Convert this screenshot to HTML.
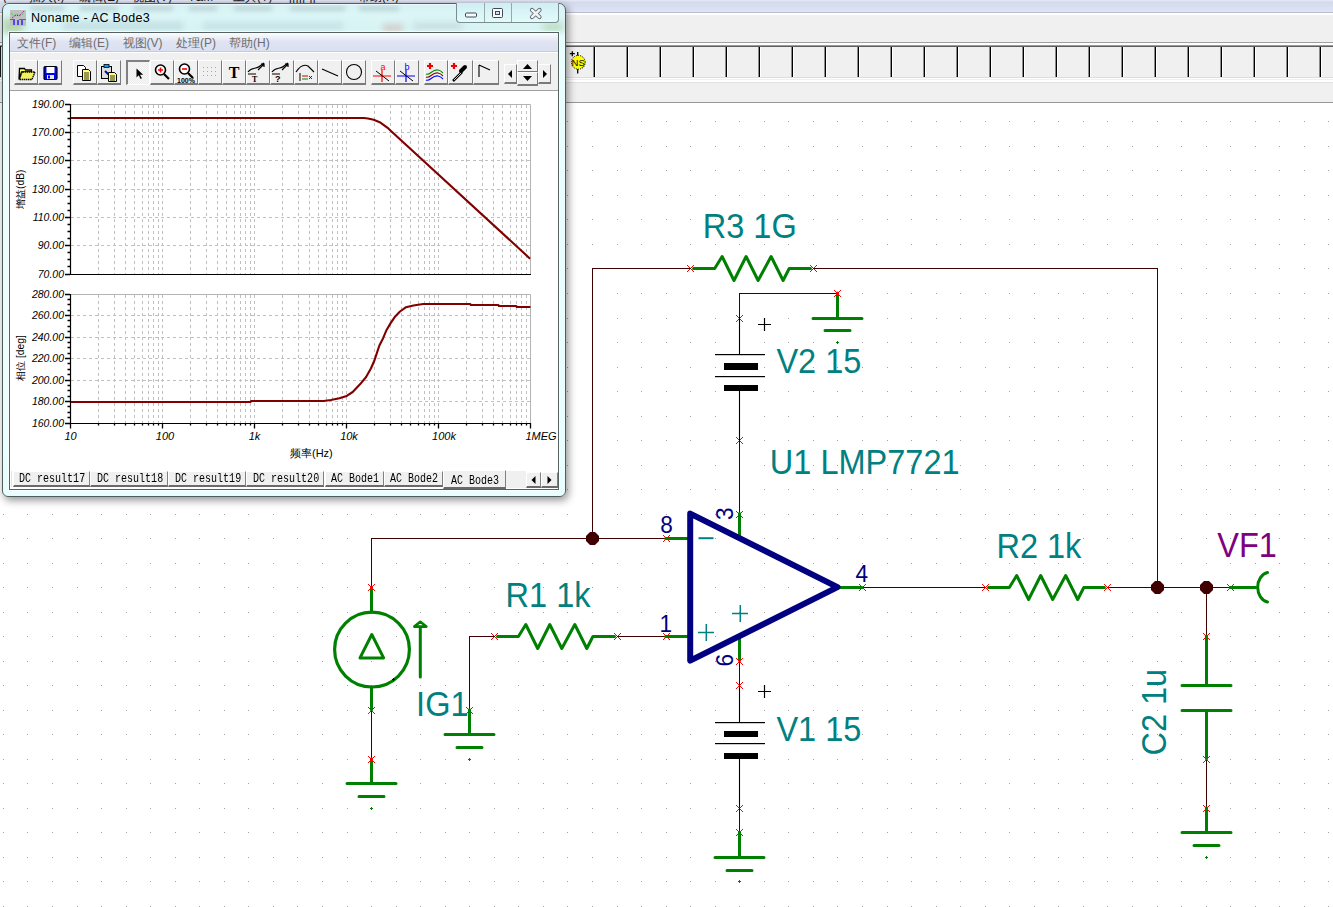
<!DOCTYPE html>
<html><head><meta charset="utf-8"><title>TINA</title><style>
*{margin:0;padding:0;box-sizing:border-box}
html,body{width:1333px;height:907px;overflow:hidden;background:#fff;font-family:"Liberation Sans",sans-serif}
.abs{position:absolute}
</style></head>
<body>
<div class="abs" style="left:0;top:0;width:1333px;height:12px;background:linear-gradient(#e8ebf6 0px,#d4daee 2px,#d8ddf0 6px,#dee3f5 12px)"></div>
<div class="abs" style="left:0;top:12px;width:1333px;height:1px;background:#b8bfd3"></div>
<div class="abs" style="left:0;top:13px;width:1333px;height:29px;background:#f0f0f0;border-top:2px solid #fff"></div>
<div class="abs" style="left:0;top:42px;width:1333px;height:1px;background:#a0a0a0"></div>
<div class="abs" style="left:0;top:43px;width:1333px;height:2px;background:#fff"></div>
<div class="abs" style="left:0;top:45px;width:1333px;height:2px;background:linear-gradient(#9a9a9a 0 1px,#5e5e5e 1px 2px)"></div>
<div class="abs" style="left:0;top:47px;width:1333px;height:30px;background:#f0f0f0"></div>
<div class="abs" style="left:0;top:77px;width:1333px;height:1px;background:#dcdcdc"></div>
<div class="abs" style="left:0;top:78px;width:1333px;height:24px;background:linear-gradient(#fff 0 1px,#f0f0f0 1px 2px,#fff 2px 4px,#e2e2e2 4px 5px,#f0f0f0 5px)"></div>
<div class="abs" style="left:0;top:102px;width:1333px;height:1px;background:#979797"></div>
<div class="abs" style="left:0;top:46px;width:1px;height:31px;background:#1a1a1a"></div>
<div class="abs" style="left:593px;top:47px;width:3px;height:30px;background:linear-gradient(90deg,#8c8c8c 0 1px,#000 1px 2px,#fff 2px 3px)"></div>
<div class="abs" style="left:626px;top:47px;width:3px;height:30px;background:linear-gradient(90deg,#8c8c8c 0 1px,#000 1px 2px,#fff 2px 3px)"></div>
<div class="abs" style="left:659px;top:47px;width:3px;height:30px;background:linear-gradient(90deg,#8c8c8c 0 1px,#000 1px 2px,#fff 2px 3px)"></div>
<div class="abs" style="left:692px;top:47px;width:3px;height:30px;background:linear-gradient(90deg,#8c8c8c 0 1px,#000 1px 2px,#fff 2px 3px)"></div>
<div class="abs" style="left:725px;top:47px;width:3px;height:30px;background:linear-gradient(90deg,#8c8c8c 0 1px,#000 1px 2px,#fff 2px 3px)"></div>
<div class="abs" style="left:758px;top:47px;width:3px;height:30px;background:linear-gradient(90deg,#8c8c8c 0 1px,#000 1px 2px,#fff 2px 3px)"></div>
<div class="abs" style="left:791px;top:47px;width:3px;height:30px;background:linear-gradient(90deg,#8c8c8c 0 1px,#000 1px 2px,#fff 2px 3px)"></div>
<div class="abs" style="left:824px;top:47px;width:3px;height:30px;background:linear-gradient(90deg,#8c8c8c 0 1px,#000 1px 2px,#fff 2px 3px)"></div>
<div class="abs" style="left:857px;top:47px;width:3px;height:30px;background:linear-gradient(90deg,#8c8c8c 0 1px,#000 1px 2px,#fff 2px 3px)"></div>
<div class="abs" style="left:890px;top:47px;width:3px;height:30px;background:linear-gradient(90deg,#8c8c8c 0 1px,#000 1px 2px,#fff 2px 3px)"></div>
<div class="abs" style="left:923px;top:47px;width:3px;height:30px;background:linear-gradient(90deg,#8c8c8c 0 1px,#000 1px 2px,#fff 2px 3px)"></div>
<div class="abs" style="left:956px;top:47px;width:3px;height:30px;background:linear-gradient(90deg,#8c8c8c 0 1px,#000 1px 2px,#fff 2px 3px)"></div>
<div class="abs" style="left:989px;top:47px;width:3px;height:30px;background:linear-gradient(90deg,#8c8c8c 0 1px,#000 1px 2px,#fff 2px 3px)"></div>
<div class="abs" style="left:1022px;top:47px;width:3px;height:30px;background:linear-gradient(90deg,#8c8c8c 0 1px,#000 1px 2px,#fff 2px 3px)"></div>
<div class="abs" style="left:1055px;top:47px;width:3px;height:30px;background:linear-gradient(90deg,#8c8c8c 0 1px,#000 1px 2px,#fff 2px 3px)"></div>
<div class="abs" style="left:1088px;top:47px;width:3px;height:30px;background:linear-gradient(90deg,#8c8c8c 0 1px,#000 1px 2px,#fff 2px 3px)"></div>
<div class="abs" style="left:1121px;top:47px;width:3px;height:30px;background:linear-gradient(90deg,#8c8c8c 0 1px,#000 1px 2px,#fff 2px 3px)"></div>
<div class="abs" style="left:1154px;top:47px;width:3px;height:30px;background:linear-gradient(90deg,#8c8c8c 0 1px,#000 1px 2px,#fff 2px 3px)"></div>
<div class="abs" style="left:1187px;top:47px;width:3px;height:30px;background:linear-gradient(90deg,#8c8c8c 0 1px,#000 1px 2px,#fff 2px 3px)"></div>
<div class="abs" style="left:1220px;top:47px;width:3px;height:30px;background:linear-gradient(90deg,#8c8c8c 0 1px,#000 1px 2px,#fff 2px 3px)"></div>
<div class="abs" style="left:1253px;top:47px;width:3px;height:30px;background:linear-gradient(90deg,#8c8c8c 0 1px,#000 1px 2px,#fff 2px 3px)"></div>
<div class="abs" style="left:1286px;top:47px;width:3px;height:30px;background:linear-gradient(90deg,#8c8c8c 0 1px,#000 1px 2px,#fff 2px 3px)"></div>
<div class="abs" style="left:1319px;top:47px;width:3px;height:30px;background:linear-gradient(90deg,#8c8c8c 0 1px,#000 1px 2px,#fff 2px 3px)"></div>
<svg class="abs" style="left:566px;top:50px" width="24" height="26" viewBox="0 0 24 26">
<line x1="11.7" y1="2" x2="11.7" y2="23.5" stroke="#000" stroke-width="1.3"/>
<path d="M3.8 3.7h5M6.3 1.2v5" stroke="#000" stroke-width="1.3"/>
<circle cx="12.3" cy="12.3" r="6.9" fill="#ffff00" stroke="#000" stroke-width="1" stroke-dasharray="1 1"/>
<path d="M16 18l2-2" stroke="#444" stroke-width="1.4" stroke-dasharray="1 1"/>
<text x="12.2" y="15.6" font-size="9.5" font-family="Liberation Sans" text-anchor="middle" fill="#000" transform="scale(1,1)">NS</text>
</svg>
<div class="abs" style="left:0;top:0;width:1333px;height:3px;overflow:hidden"><div class="abs" style="left:3px;top:-9px;font-size:12px;line-height:12px;color:#1a1a1a;white-space:nowrap">(</div><div class="abs" style="left:29px;top:-9px;font-size:12px;line-height:12px;color:#1a1a1a;white-space:nowrap">插入(I)</div><div class="abs" style="left:79px;top:-9px;font-size:12px;line-height:12px;color:#1a1a1a;white-space:nowrap">编辑(E)</div><div class="abs" style="left:132px;top:-9px;font-size:12px;line-height:12px;color:#1a1a1a;white-space:nowrap">视图(V)</div><div class="abs" style="left:188px;top:-9px;font-size:12px;line-height:12px;color:#1a1a1a;white-space:nowrap">T&amp;M</div><div class="abs" style="left:233px;top:-9px;font-size:12px;line-height:12px;color:#1a1a1a;white-space:nowrap">工具(T)</div><div class="abs" style="left:289px;top:-9px;font-size:12px;line-height:12px;color:#1a1a1a;white-space:nowrap">[[[[[ ]]</div><div class="abs" style="left:358px;top:-9px;font-size:12px;line-height:12px;color:#1a1a1a;white-space:nowrap">帮助(H)</div></div>
<svg class="abs" style="left:0;top:0" width="1333" height="907" viewBox="0 0 1333 907">
<path d="M3 121h1v1h-1zM3 146h1v1h-1zM3 170h1v1h-1zM3 195h1v1h-1zM3 219h1v1h-1zM3 244h1v1h-1zM3 268h1v1h-1zM3 293h1v1h-1zM3 318h1v1h-1zM3 342h1v1h-1zM3 367h1v1h-1zM3 391h1v1h-1zM3 416h1v1h-1zM3 440h1v1h-1zM3 465h1v1h-1zM3 489h1v1h-1zM3 514h1v1h-1zM3 538h1v1h-1zM3 563h1v1h-1zM3 587h1v1h-1zM3 612h1v1h-1zM3 636h1v1h-1zM3 661h1v1h-1zM3 685h1v1h-1zM3 710h1v1h-1zM3 734h1v1h-1zM3 759h1v1h-1zM3 783h1v1h-1zM3 808h1v1h-1zM3 832h1v1h-1zM3 857h1v1h-1zM3 881h1v1h-1zM3 906h1v1h-1zM27 121h1v1h-1zM27 146h1v1h-1zM27 170h1v1h-1zM27 195h1v1h-1zM27 219h1v1h-1zM27 244h1v1h-1zM27 268h1v1h-1zM27 293h1v1h-1zM27 318h1v1h-1zM27 342h1v1h-1zM27 367h1v1h-1zM27 391h1v1h-1zM27 416h1v1h-1zM27 440h1v1h-1zM27 465h1v1h-1zM27 489h1v1h-1zM27 514h1v1h-1zM27 538h1v1h-1zM27 563h1v1h-1zM27 587h1v1h-1zM27 612h1v1h-1zM27 636h1v1h-1zM27 661h1v1h-1zM27 685h1v1h-1zM27 710h1v1h-1zM27 734h1v1h-1zM27 759h1v1h-1zM27 783h1v1h-1zM27 808h1v1h-1zM27 832h1v1h-1zM27 857h1v1h-1zM27 881h1v1h-1zM27 906h1v1h-1zM52 121h1v1h-1zM52 146h1v1h-1zM52 170h1v1h-1zM52 195h1v1h-1zM52 219h1v1h-1zM52 244h1v1h-1zM52 268h1v1h-1zM52 293h1v1h-1zM52 318h1v1h-1zM52 342h1v1h-1zM52 367h1v1h-1zM52 391h1v1h-1zM52 416h1v1h-1zM52 440h1v1h-1zM52 465h1v1h-1zM52 489h1v1h-1zM52 514h1v1h-1zM52 538h1v1h-1zM52 563h1v1h-1zM52 587h1v1h-1zM52 612h1v1h-1zM52 636h1v1h-1zM52 661h1v1h-1zM52 685h1v1h-1zM52 710h1v1h-1zM52 734h1v1h-1zM52 759h1v1h-1zM52 783h1v1h-1zM52 808h1v1h-1zM52 832h1v1h-1zM52 857h1v1h-1zM52 881h1v1h-1zM52 906h1v1h-1zM77 121h1v1h-1zM77 146h1v1h-1zM77 170h1v1h-1zM77 195h1v1h-1zM77 219h1v1h-1zM77 244h1v1h-1zM77 268h1v1h-1zM77 293h1v1h-1zM77 318h1v1h-1zM77 342h1v1h-1zM77 367h1v1h-1zM77 391h1v1h-1zM77 416h1v1h-1zM77 440h1v1h-1zM77 465h1v1h-1zM77 489h1v1h-1zM77 514h1v1h-1zM77 538h1v1h-1zM77 563h1v1h-1zM77 587h1v1h-1zM77 612h1v1h-1zM77 636h1v1h-1zM77 661h1v1h-1zM77 685h1v1h-1zM77 710h1v1h-1zM77 734h1v1h-1zM77 759h1v1h-1zM77 783h1v1h-1zM77 808h1v1h-1zM77 832h1v1h-1zM77 857h1v1h-1zM77 881h1v1h-1zM77 906h1v1h-1zM101 121h1v1h-1zM101 146h1v1h-1zM101 170h1v1h-1zM101 195h1v1h-1zM101 219h1v1h-1zM101 244h1v1h-1zM101 268h1v1h-1zM101 293h1v1h-1zM101 318h1v1h-1zM101 342h1v1h-1zM101 367h1v1h-1zM101 391h1v1h-1zM101 416h1v1h-1zM101 440h1v1h-1zM101 465h1v1h-1zM101 489h1v1h-1zM101 514h1v1h-1zM101 538h1v1h-1zM101 563h1v1h-1zM101 587h1v1h-1zM101 612h1v1h-1zM101 636h1v1h-1zM101 661h1v1h-1zM101 685h1v1h-1zM101 710h1v1h-1zM101 734h1v1h-1zM101 759h1v1h-1zM101 783h1v1h-1zM101 808h1v1h-1zM101 832h1v1h-1zM101 857h1v1h-1zM101 881h1v1h-1zM101 906h1v1h-1zM126 121h1v1h-1zM126 146h1v1h-1zM126 170h1v1h-1zM126 195h1v1h-1zM126 219h1v1h-1zM126 244h1v1h-1zM126 268h1v1h-1zM126 293h1v1h-1zM126 318h1v1h-1zM126 342h1v1h-1zM126 367h1v1h-1zM126 391h1v1h-1zM126 416h1v1h-1zM126 440h1v1h-1zM126 465h1v1h-1zM126 489h1v1h-1zM126 514h1v1h-1zM126 538h1v1h-1zM126 563h1v1h-1zM126 587h1v1h-1zM126 612h1v1h-1zM126 636h1v1h-1zM126 661h1v1h-1zM126 685h1v1h-1zM126 710h1v1h-1zM126 734h1v1h-1zM126 759h1v1h-1zM126 783h1v1h-1zM126 808h1v1h-1zM126 832h1v1h-1zM126 857h1v1h-1zM126 881h1v1h-1zM126 906h1v1h-1zM150 121h1v1h-1zM150 146h1v1h-1zM150 170h1v1h-1zM150 195h1v1h-1zM150 219h1v1h-1zM150 244h1v1h-1zM150 268h1v1h-1zM150 293h1v1h-1zM150 318h1v1h-1zM150 342h1v1h-1zM150 367h1v1h-1zM150 391h1v1h-1zM150 416h1v1h-1zM150 440h1v1h-1zM150 465h1v1h-1zM150 489h1v1h-1zM150 514h1v1h-1zM150 538h1v1h-1zM150 563h1v1h-1zM150 587h1v1h-1zM150 612h1v1h-1zM150 636h1v1h-1zM150 661h1v1h-1zM150 685h1v1h-1zM150 710h1v1h-1zM150 734h1v1h-1zM150 759h1v1h-1zM150 783h1v1h-1zM150 808h1v1h-1zM150 832h1v1h-1zM150 857h1v1h-1zM150 881h1v1h-1zM150 906h1v1h-1zM175 121h1v1h-1zM175 146h1v1h-1zM175 170h1v1h-1zM175 195h1v1h-1zM175 219h1v1h-1zM175 244h1v1h-1zM175 268h1v1h-1zM175 293h1v1h-1zM175 318h1v1h-1zM175 342h1v1h-1zM175 367h1v1h-1zM175 391h1v1h-1zM175 416h1v1h-1zM175 440h1v1h-1zM175 465h1v1h-1zM175 489h1v1h-1zM175 514h1v1h-1zM175 538h1v1h-1zM175 563h1v1h-1zM175 587h1v1h-1zM175 612h1v1h-1zM175 636h1v1h-1zM175 661h1v1h-1zM175 685h1v1h-1zM175 710h1v1h-1zM175 734h1v1h-1zM175 759h1v1h-1zM175 783h1v1h-1zM175 808h1v1h-1zM175 832h1v1h-1zM175 857h1v1h-1zM175 881h1v1h-1zM175 906h1v1h-1zM199 121h1v1h-1zM199 146h1v1h-1zM199 170h1v1h-1zM199 195h1v1h-1zM199 219h1v1h-1zM199 244h1v1h-1zM199 268h1v1h-1zM199 293h1v1h-1zM199 318h1v1h-1zM199 342h1v1h-1zM199 367h1v1h-1zM199 391h1v1h-1zM199 416h1v1h-1zM199 440h1v1h-1zM199 465h1v1h-1zM199 489h1v1h-1zM199 514h1v1h-1zM199 538h1v1h-1zM199 563h1v1h-1zM199 587h1v1h-1zM199 612h1v1h-1zM199 636h1v1h-1zM199 661h1v1h-1zM199 685h1v1h-1zM199 710h1v1h-1zM199 734h1v1h-1zM199 759h1v1h-1zM199 783h1v1h-1zM199 808h1v1h-1zM199 832h1v1h-1zM199 857h1v1h-1zM199 881h1v1h-1zM199 906h1v1h-1zM224 121h1v1h-1zM224 146h1v1h-1zM224 170h1v1h-1zM224 195h1v1h-1zM224 219h1v1h-1zM224 244h1v1h-1zM224 268h1v1h-1zM224 293h1v1h-1zM224 318h1v1h-1zM224 342h1v1h-1zM224 367h1v1h-1zM224 391h1v1h-1zM224 416h1v1h-1zM224 440h1v1h-1zM224 465h1v1h-1zM224 489h1v1h-1zM224 514h1v1h-1zM224 538h1v1h-1zM224 563h1v1h-1zM224 587h1v1h-1zM224 612h1v1h-1zM224 636h1v1h-1zM224 661h1v1h-1zM224 685h1v1h-1zM224 710h1v1h-1zM224 734h1v1h-1zM224 759h1v1h-1zM224 783h1v1h-1zM224 808h1v1h-1zM224 832h1v1h-1zM224 857h1v1h-1zM224 881h1v1h-1zM224 906h1v1h-1zM248 121h1v1h-1zM248 146h1v1h-1zM248 170h1v1h-1zM248 195h1v1h-1zM248 219h1v1h-1zM248 244h1v1h-1zM248 268h1v1h-1zM248 293h1v1h-1zM248 318h1v1h-1zM248 342h1v1h-1zM248 367h1v1h-1zM248 391h1v1h-1zM248 416h1v1h-1zM248 440h1v1h-1zM248 465h1v1h-1zM248 489h1v1h-1zM248 514h1v1h-1zM248 538h1v1h-1zM248 563h1v1h-1zM248 587h1v1h-1zM248 612h1v1h-1zM248 636h1v1h-1zM248 661h1v1h-1zM248 685h1v1h-1zM248 710h1v1h-1zM248 734h1v1h-1zM248 759h1v1h-1zM248 783h1v1h-1zM248 808h1v1h-1zM248 832h1v1h-1zM248 857h1v1h-1zM248 881h1v1h-1zM248 906h1v1h-1zM273 121h1v1h-1zM273 146h1v1h-1zM273 170h1v1h-1zM273 195h1v1h-1zM273 219h1v1h-1zM273 244h1v1h-1zM273 268h1v1h-1zM273 293h1v1h-1zM273 318h1v1h-1zM273 342h1v1h-1zM273 367h1v1h-1zM273 391h1v1h-1zM273 416h1v1h-1zM273 440h1v1h-1zM273 465h1v1h-1zM273 489h1v1h-1zM273 514h1v1h-1zM273 538h1v1h-1zM273 563h1v1h-1zM273 587h1v1h-1zM273 612h1v1h-1zM273 636h1v1h-1zM273 661h1v1h-1zM273 685h1v1h-1zM273 710h1v1h-1zM273 734h1v1h-1zM273 759h1v1h-1zM273 783h1v1h-1zM273 808h1v1h-1zM273 832h1v1h-1zM273 857h1v1h-1zM273 881h1v1h-1zM273 906h1v1h-1zM297 121h1v1h-1zM297 146h1v1h-1zM297 170h1v1h-1zM297 195h1v1h-1zM297 219h1v1h-1zM297 244h1v1h-1zM297 268h1v1h-1zM297 293h1v1h-1zM297 318h1v1h-1zM297 342h1v1h-1zM297 367h1v1h-1zM297 391h1v1h-1zM297 416h1v1h-1zM297 440h1v1h-1zM297 465h1v1h-1zM297 489h1v1h-1zM297 514h1v1h-1zM297 538h1v1h-1zM297 563h1v1h-1zM297 587h1v1h-1zM297 612h1v1h-1zM297 636h1v1h-1zM297 661h1v1h-1zM297 685h1v1h-1zM297 710h1v1h-1zM297 734h1v1h-1zM297 759h1v1h-1zM297 783h1v1h-1zM297 808h1v1h-1zM297 832h1v1h-1zM297 857h1v1h-1zM297 881h1v1h-1zM297 906h1v1h-1zM322 121h1v1h-1zM322 146h1v1h-1zM322 170h1v1h-1zM322 195h1v1h-1zM322 219h1v1h-1zM322 244h1v1h-1zM322 268h1v1h-1zM322 293h1v1h-1zM322 318h1v1h-1zM322 342h1v1h-1zM322 367h1v1h-1zM322 391h1v1h-1zM322 416h1v1h-1zM322 440h1v1h-1zM322 465h1v1h-1zM322 489h1v1h-1zM322 514h1v1h-1zM322 538h1v1h-1zM322 563h1v1h-1zM322 587h1v1h-1zM322 612h1v1h-1zM322 636h1v1h-1zM322 661h1v1h-1zM322 685h1v1h-1zM322 710h1v1h-1zM322 734h1v1h-1zM322 759h1v1h-1zM322 783h1v1h-1zM322 808h1v1h-1zM322 832h1v1h-1zM322 857h1v1h-1zM322 881h1v1h-1zM322 906h1v1h-1zM347 121h1v1h-1zM347 146h1v1h-1zM347 170h1v1h-1zM347 195h1v1h-1zM347 219h1v1h-1zM347 244h1v1h-1zM347 268h1v1h-1zM347 293h1v1h-1zM347 318h1v1h-1zM347 342h1v1h-1zM347 367h1v1h-1zM347 391h1v1h-1zM347 416h1v1h-1zM347 440h1v1h-1zM347 465h1v1h-1zM347 489h1v1h-1zM347 514h1v1h-1zM347 538h1v1h-1zM347 563h1v1h-1zM347 587h1v1h-1zM347 612h1v1h-1zM347 636h1v1h-1zM347 661h1v1h-1zM347 685h1v1h-1zM347 710h1v1h-1zM347 734h1v1h-1zM347 759h1v1h-1zM347 783h1v1h-1zM347 808h1v1h-1zM347 832h1v1h-1zM347 857h1v1h-1zM347 881h1v1h-1zM347 906h1v1h-1zM371 121h1v1h-1zM371 146h1v1h-1zM371 170h1v1h-1zM371 195h1v1h-1zM371 219h1v1h-1zM371 244h1v1h-1zM371 268h1v1h-1zM371 293h1v1h-1zM371 318h1v1h-1zM371 342h1v1h-1zM371 367h1v1h-1zM371 391h1v1h-1zM371 416h1v1h-1zM371 440h1v1h-1zM371 465h1v1h-1zM371 489h1v1h-1zM371 514h1v1h-1zM371 538h1v1h-1zM371 563h1v1h-1zM371 587h1v1h-1zM371 612h1v1h-1zM371 636h1v1h-1zM371 661h1v1h-1zM371 685h1v1h-1zM371 710h1v1h-1zM371 734h1v1h-1zM371 759h1v1h-1zM371 783h1v1h-1zM371 808h1v1h-1zM371 832h1v1h-1zM371 857h1v1h-1zM371 881h1v1h-1zM371 906h1v1h-1zM396 121h1v1h-1zM396 146h1v1h-1zM396 170h1v1h-1zM396 195h1v1h-1zM396 219h1v1h-1zM396 244h1v1h-1zM396 268h1v1h-1zM396 293h1v1h-1zM396 318h1v1h-1zM396 342h1v1h-1zM396 367h1v1h-1zM396 391h1v1h-1zM396 416h1v1h-1zM396 440h1v1h-1zM396 465h1v1h-1zM396 489h1v1h-1zM396 514h1v1h-1zM396 538h1v1h-1zM396 563h1v1h-1zM396 587h1v1h-1zM396 612h1v1h-1zM396 636h1v1h-1zM396 661h1v1h-1zM396 685h1v1h-1zM396 710h1v1h-1zM396 734h1v1h-1zM396 759h1v1h-1zM396 783h1v1h-1zM396 808h1v1h-1zM396 832h1v1h-1zM396 857h1v1h-1zM396 881h1v1h-1zM396 906h1v1h-1zM420 121h1v1h-1zM420 146h1v1h-1zM420 170h1v1h-1zM420 195h1v1h-1zM420 219h1v1h-1zM420 244h1v1h-1zM420 268h1v1h-1zM420 293h1v1h-1zM420 318h1v1h-1zM420 342h1v1h-1zM420 367h1v1h-1zM420 391h1v1h-1zM420 416h1v1h-1zM420 440h1v1h-1zM420 465h1v1h-1zM420 489h1v1h-1zM420 514h1v1h-1zM420 538h1v1h-1zM420 563h1v1h-1zM420 587h1v1h-1zM420 612h1v1h-1zM420 636h1v1h-1zM420 661h1v1h-1zM420 685h1v1h-1zM420 710h1v1h-1zM420 734h1v1h-1zM420 759h1v1h-1zM420 783h1v1h-1zM420 808h1v1h-1zM420 832h1v1h-1zM420 857h1v1h-1zM420 881h1v1h-1zM420 906h1v1h-1zM445 121h1v1h-1zM445 146h1v1h-1zM445 170h1v1h-1zM445 195h1v1h-1zM445 219h1v1h-1zM445 244h1v1h-1zM445 268h1v1h-1zM445 293h1v1h-1zM445 318h1v1h-1zM445 342h1v1h-1zM445 367h1v1h-1zM445 391h1v1h-1zM445 416h1v1h-1zM445 440h1v1h-1zM445 465h1v1h-1zM445 489h1v1h-1zM445 514h1v1h-1zM445 538h1v1h-1zM445 563h1v1h-1zM445 587h1v1h-1zM445 612h1v1h-1zM445 636h1v1h-1zM445 661h1v1h-1zM445 685h1v1h-1zM445 710h1v1h-1zM445 734h1v1h-1zM445 759h1v1h-1zM445 783h1v1h-1zM445 808h1v1h-1zM445 832h1v1h-1zM445 857h1v1h-1zM445 881h1v1h-1zM445 906h1v1h-1zM469 121h1v1h-1zM469 146h1v1h-1zM469 170h1v1h-1zM469 195h1v1h-1zM469 219h1v1h-1zM469 244h1v1h-1zM469 268h1v1h-1zM469 293h1v1h-1zM469 318h1v1h-1zM469 342h1v1h-1zM469 367h1v1h-1zM469 391h1v1h-1zM469 416h1v1h-1zM469 440h1v1h-1zM469 465h1v1h-1zM469 489h1v1h-1zM469 514h1v1h-1zM469 538h1v1h-1zM469 563h1v1h-1zM469 587h1v1h-1zM469 612h1v1h-1zM469 636h1v1h-1zM469 661h1v1h-1zM469 685h1v1h-1zM469 710h1v1h-1zM469 734h1v1h-1zM469 759h1v1h-1zM469 783h1v1h-1zM469 808h1v1h-1zM469 832h1v1h-1zM469 857h1v1h-1zM469 881h1v1h-1zM469 906h1v1h-1zM494 121h1v1h-1zM494 146h1v1h-1zM494 170h1v1h-1zM494 195h1v1h-1zM494 219h1v1h-1zM494 244h1v1h-1zM494 268h1v1h-1zM494 293h1v1h-1zM494 318h1v1h-1zM494 342h1v1h-1zM494 367h1v1h-1zM494 391h1v1h-1zM494 416h1v1h-1zM494 440h1v1h-1zM494 465h1v1h-1zM494 489h1v1h-1zM494 514h1v1h-1zM494 538h1v1h-1zM494 563h1v1h-1zM494 587h1v1h-1zM494 612h1v1h-1zM494 636h1v1h-1zM494 661h1v1h-1zM494 685h1v1h-1zM494 710h1v1h-1zM494 734h1v1h-1zM494 759h1v1h-1zM494 783h1v1h-1zM494 808h1v1h-1zM494 832h1v1h-1zM494 857h1v1h-1zM494 881h1v1h-1zM494 906h1v1h-1zM518 121h1v1h-1zM518 146h1v1h-1zM518 170h1v1h-1zM518 195h1v1h-1zM518 219h1v1h-1zM518 244h1v1h-1zM518 268h1v1h-1zM518 293h1v1h-1zM518 318h1v1h-1zM518 342h1v1h-1zM518 367h1v1h-1zM518 391h1v1h-1zM518 416h1v1h-1zM518 440h1v1h-1zM518 465h1v1h-1zM518 489h1v1h-1zM518 514h1v1h-1zM518 538h1v1h-1zM518 563h1v1h-1zM518 587h1v1h-1zM518 612h1v1h-1zM518 636h1v1h-1zM518 661h1v1h-1zM518 685h1v1h-1zM518 710h1v1h-1zM518 734h1v1h-1zM518 759h1v1h-1zM518 783h1v1h-1zM518 808h1v1h-1zM518 832h1v1h-1zM518 857h1v1h-1zM518 881h1v1h-1zM518 906h1v1h-1zM543 121h1v1h-1zM543 146h1v1h-1zM543 170h1v1h-1zM543 195h1v1h-1zM543 219h1v1h-1zM543 244h1v1h-1zM543 268h1v1h-1zM543 293h1v1h-1zM543 318h1v1h-1zM543 342h1v1h-1zM543 367h1v1h-1zM543 391h1v1h-1zM543 416h1v1h-1zM543 440h1v1h-1zM543 465h1v1h-1zM543 489h1v1h-1zM543 514h1v1h-1zM543 538h1v1h-1zM543 563h1v1h-1zM543 587h1v1h-1zM543 612h1v1h-1zM543 636h1v1h-1zM543 661h1v1h-1zM543 685h1v1h-1zM543 710h1v1h-1zM543 734h1v1h-1zM543 759h1v1h-1zM543 783h1v1h-1zM543 808h1v1h-1zM543 832h1v1h-1zM543 857h1v1h-1zM543 881h1v1h-1zM543 906h1v1h-1zM567 121h1v1h-1zM567 146h1v1h-1zM567 170h1v1h-1zM567 195h1v1h-1zM567 219h1v1h-1zM567 244h1v1h-1zM567 268h1v1h-1zM567 293h1v1h-1zM567 318h1v1h-1zM567 342h1v1h-1zM567 367h1v1h-1zM567 391h1v1h-1zM567 416h1v1h-1zM567 440h1v1h-1zM567 465h1v1h-1zM567 489h1v1h-1zM567 514h1v1h-1zM567 538h1v1h-1zM567 563h1v1h-1zM567 587h1v1h-1zM567 612h1v1h-1zM567 636h1v1h-1zM567 661h1v1h-1zM567 685h1v1h-1zM567 710h1v1h-1zM567 734h1v1h-1zM567 759h1v1h-1zM567 783h1v1h-1zM567 808h1v1h-1zM567 832h1v1h-1zM567 857h1v1h-1zM567 881h1v1h-1zM567 906h1v1h-1zM592 121h1v1h-1zM592 146h1v1h-1zM592 170h1v1h-1zM592 195h1v1h-1zM592 219h1v1h-1zM592 244h1v1h-1zM592 268h1v1h-1zM592 293h1v1h-1zM592 318h1v1h-1zM592 342h1v1h-1zM592 367h1v1h-1zM592 391h1v1h-1zM592 416h1v1h-1zM592 440h1v1h-1zM592 465h1v1h-1zM592 489h1v1h-1zM592 514h1v1h-1zM592 538h1v1h-1zM592 563h1v1h-1zM592 587h1v1h-1zM592 612h1v1h-1zM592 636h1v1h-1zM592 661h1v1h-1zM592 685h1v1h-1zM592 710h1v1h-1zM592 734h1v1h-1zM592 759h1v1h-1zM592 783h1v1h-1zM592 808h1v1h-1zM592 832h1v1h-1zM592 857h1v1h-1zM592 881h1v1h-1zM592 906h1v1h-1zM617 121h1v1h-1zM617 146h1v1h-1zM617 170h1v1h-1zM617 195h1v1h-1zM617 219h1v1h-1zM617 244h1v1h-1zM617 268h1v1h-1zM617 293h1v1h-1zM617 318h1v1h-1zM617 342h1v1h-1zM617 367h1v1h-1zM617 391h1v1h-1zM617 416h1v1h-1zM617 440h1v1h-1zM617 465h1v1h-1zM617 489h1v1h-1zM617 514h1v1h-1zM617 538h1v1h-1zM617 563h1v1h-1zM617 587h1v1h-1zM617 612h1v1h-1zM617 636h1v1h-1zM617 661h1v1h-1zM617 685h1v1h-1zM617 710h1v1h-1zM617 734h1v1h-1zM617 759h1v1h-1zM617 783h1v1h-1zM617 808h1v1h-1zM617 832h1v1h-1zM617 857h1v1h-1zM617 881h1v1h-1zM617 906h1v1h-1zM641 121h1v1h-1zM641 146h1v1h-1zM641 170h1v1h-1zM641 195h1v1h-1zM641 219h1v1h-1zM641 244h1v1h-1zM641 268h1v1h-1zM641 293h1v1h-1zM641 318h1v1h-1zM641 342h1v1h-1zM641 367h1v1h-1zM641 391h1v1h-1zM641 416h1v1h-1zM641 440h1v1h-1zM641 465h1v1h-1zM641 489h1v1h-1zM641 514h1v1h-1zM641 538h1v1h-1zM641 563h1v1h-1zM641 587h1v1h-1zM641 612h1v1h-1zM641 636h1v1h-1zM641 661h1v1h-1zM641 685h1v1h-1zM641 710h1v1h-1zM641 734h1v1h-1zM641 759h1v1h-1zM641 783h1v1h-1zM641 808h1v1h-1zM641 832h1v1h-1zM641 857h1v1h-1zM641 881h1v1h-1zM641 906h1v1h-1zM666 121h1v1h-1zM666 146h1v1h-1zM666 170h1v1h-1zM666 195h1v1h-1zM666 219h1v1h-1zM666 244h1v1h-1zM666 268h1v1h-1zM666 293h1v1h-1zM666 318h1v1h-1zM666 342h1v1h-1zM666 367h1v1h-1zM666 391h1v1h-1zM666 416h1v1h-1zM666 440h1v1h-1zM666 465h1v1h-1zM666 489h1v1h-1zM666 514h1v1h-1zM666 538h1v1h-1zM666 563h1v1h-1zM666 587h1v1h-1zM666 612h1v1h-1zM666 636h1v1h-1zM666 661h1v1h-1zM666 685h1v1h-1zM666 710h1v1h-1zM666 734h1v1h-1zM666 759h1v1h-1zM666 783h1v1h-1zM666 808h1v1h-1zM666 832h1v1h-1zM666 857h1v1h-1zM666 881h1v1h-1zM666 906h1v1h-1zM690 121h1v1h-1zM690 146h1v1h-1zM690 170h1v1h-1zM690 195h1v1h-1zM690 219h1v1h-1zM690 244h1v1h-1zM690 268h1v1h-1zM690 293h1v1h-1zM690 318h1v1h-1zM690 342h1v1h-1zM690 367h1v1h-1zM690 391h1v1h-1zM690 416h1v1h-1zM690 440h1v1h-1zM690 465h1v1h-1zM690 489h1v1h-1zM690 514h1v1h-1zM690 538h1v1h-1zM690 563h1v1h-1zM690 587h1v1h-1zM690 612h1v1h-1zM690 636h1v1h-1zM690 661h1v1h-1zM690 685h1v1h-1zM690 710h1v1h-1zM690 734h1v1h-1zM690 759h1v1h-1zM690 783h1v1h-1zM690 808h1v1h-1zM690 832h1v1h-1zM690 857h1v1h-1zM690 881h1v1h-1zM690 906h1v1h-1zM715 121h1v1h-1zM715 146h1v1h-1zM715 170h1v1h-1zM715 195h1v1h-1zM715 219h1v1h-1zM715 244h1v1h-1zM715 268h1v1h-1zM715 293h1v1h-1zM715 318h1v1h-1zM715 342h1v1h-1zM715 367h1v1h-1zM715 391h1v1h-1zM715 416h1v1h-1zM715 440h1v1h-1zM715 465h1v1h-1zM715 489h1v1h-1zM715 514h1v1h-1zM715 538h1v1h-1zM715 563h1v1h-1zM715 587h1v1h-1zM715 612h1v1h-1zM715 636h1v1h-1zM715 661h1v1h-1zM715 685h1v1h-1zM715 710h1v1h-1zM715 734h1v1h-1zM715 759h1v1h-1zM715 783h1v1h-1zM715 808h1v1h-1zM715 832h1v1h-1zM715 857h1v1h-1zM715 881h1v1h-1zM715 906h1v1h-1zM739 121h1v1h-1zM739 146h1v1h-1zM739 170h1v1h-1zM739 195h1v1h-1zM739 219h1v1h-1zM739 244h1v1h-1zM739 268h1v1h-1zM739 293h1v1h-1zM739 318h1v1h-1zM739 342h1v1h-1zM739 367h1v1h-1zM739 391h1v1h-1zM739 416h1v1h-1zM739 440h1v1h-1zM739 465h1v1h-1zM739 489h1v1h-1zM739 514h1v1h-1zM739 538h1v1h-1zM739 563h1v1h-1zM739 587h1v1h-1zM739 612h1v1h-1zM739 636h1v1h-1zM739 661h1v1h-1zM739 685h1v1h-1zM739 710h1v1h-1zM739 734h1v1h-1zM739 759h1v1h-1zM739 783h1v1h-1zM739 808h1v1h-1zM739 832h1v1h-1zM739 857h1v1h-1zM739 881h1v1h-1zM739 906h1v1h-1zM764 121h1v1h-1zM764 146h1v1h-1zM764 170h1v1h-1zM764 195h1v1h-1zM764 219h1v1h-1zM764 244h1v1h-1zM764 268h1v1h-1zM764 293h1v1h-1zM764 318h1v1h-1zM764 342h1v1h-1zM764 367h1v1h-1zM764 391h1v1h-1zM764 416h1v1h-1zM764 440h1v1h-1zM764 465h1v1h-1zM764 489h1v1h-1zM764 514h1v1h-1zM764 538h1v1h-1zM764 563h1v1h-1zM764 587h1v1h-1zM764 612h1v1h-1zM764 636h1v1h-1zM764 661h1v1h-1zM764 685h1v1h-1zM764 710h1v1h-1zM764 734h1v1h-1zM764 759h1v1h-1zM764 783h1v1h-1zM764 808h1v1h-1zM764 832h1v1h-1zM764 857h1v1h-1zM764 881h1v1h-1zM764 906h1v1h-1zM788 121h1v1h-1zM788 146h1v1h-1zM788 170h1v1h-1zM788 195h1v1h-1zM788 219h1v1h-1zM788 244h1v1h-1zM788 268h1v1h-1zM788 293h1v1h-1zM788 318h1v1h-1zM788 342h1v1h-1zM788 367h1v1h-1zM788 391h1v1h-1zM788 416h1v1h-1zM788 440h1v1h-1zM788 465h1v1h-1zM788 489h1v1h-1zM788 514h1v1h-1zM788 538h1v1h-1zM788 563h1v1h-1zM788 587h1v1h-1zM788 612h1v1h-1zM788 636h1v1h-1zM788 661h1v1h-1zM788 685h1v1h-1zM788 710h1v1h-1zM788 734h1v1h-1zM788 759h1v1h-1zM788 783h1v1h-1zM788 808h1v1h-1zM788 832h1v1h-1zM788 857h1v1h-1zM788 881h1v1h-1zM788 906h1v1h-1zM813 121h1v1h-1zM813 146h1v1h-1zM813 170h1v1h-1zM813 195h1v1h-1zM813 219h1v1h-1zM813 244h1v1h-1zM813 268h1v1h-1zM813 293h1v1h-1zM813 318h1v1h-1zM813 342h1v1h-1zM813 367h1v1h-1zM813 391h1v1h-1zM813 416h1v1h-1zM813 440h1v1h-1zM813 465h1v1h-1zM813 489h1v1h-1zM813 514h1v1h-1zM813 538h1v1h-1zM813 563h1v1h-1zM813 587h1v1h-1zM813 612h1v1h-1zM813 636h1v1h-1zM813 661h1v1h-1zM813 685h1v1h-1zM813 710h1v1h-1zM813 734h1v1h-1zM813 759h1v1h-1zM813 783h1v1h-1zM813 808h1v1h-1zM813 832h1v1h-1zM813 857h1v1h-1zM813 881h1v1h-1zM813 906h1v1h-1zM837 121h1v1h-1zM837 146h1v1h-1zM837 170h1v1h-1zM837 195h1v1h-1zM837 219h1v1h-1zM837 244h1v1h-1zM837 268h1v1h-1zM837 293h1v1h-1zM837 318h1v1h-1zM837 342h1v1h-1zM837 367h1v1h-1zM837 391h1v1h-1zM837 416h1v1h-1zM837 440h1v1h-1zM837 465h1v1h-1zM837 489h1v1h-1zM837 514h1v1h-1zM837 538h1v1h-1zM837 563h1v1h-1zM837 587h1v1h-1zM837 612h1v1h-1zM837 636h1v1h-1zM837 661h1v1h-1zM837 685h1v1h-1zM837 710h1v1h-1zM837 734h1v1h-1zM837 759h1v1h-1zM837 783h1v1h-1zM837 808h1v1h-1zM837 832h1v1h-1zM837 857h1v1h-1zM837 881h1v1h-1zM837 906h1v1h-1zM862 121h1v1h-1zM862 146h1v1h-1zM862 170h1v1h-1zM862 195h1v1h-1zM862 219h1v1h-1zM862 244h1v1h-1zM862 268h1v1h-1zM862 293h1v1h-1zM862 318h1v1h-1zM862 342h1v1h-1zM862 367h1v1h-1zM862 391h1v1h-1zM862 416h1v1h-1zM862 440h1v1h-1zM862 465h1v1h-1zM862 489h1v1h-1zM862 514h1v1h-1zM862 538h1v1h-1zM862 563h1v1h-1zM862 587h1v1h-1zM862 612h1v1h-1zM862 636h1v1h-1zM862 661h1v1h-1zM862 685h1v1h-1zM862 710h1v1h-1zM862 734h1v1h-1zM862 759h1v1h-1zM862 783h1v1h-1zM862 808h1v1h-1zM862 832h1v1h-1zM862 857h1v1h-1zM862 881h1v1h-1zM862 906h1v1h-1zM887 121h1v1h-1zM887 146h1v1h-1zM887 170h1v1h-1zM887 195h1v1h-1zM887 219h1v1h-1zM887 244h1v1h-1zM887 268h1v1h-1zM887 293h1v1h-1zM887 318h1v1h-1zM887 342h1v1h-1zM887 367h1v1h-1zM887 391h1v1h-1zM887 416h1v1h-1zM887 440h1v1h-1zM887 465h1v1h-1zM887 489h1v1h-1zM887 514h1v1h-1zM887 538h1v1h-1zM887 563h1v1h-1zM887 587h1v1h-1zM887 612h1v1h-1zM887 636h1v1h-1zM887 661h1v1h-1zM887 685h1v1h-1zM887 710h1v1h-1zM887 734h1v1h-1zM887 759h1v1h-1zM887 783h1v1h-1zM887 808h1v1h-1zM887 832h1v1h-1zM887 857h1v1h-1zM887 881h1v1h-1zM887 906h1v1h-1zM911 121h1v1h-1zM911 146h1v1h-1zM911 170h1v1h-1zM911 195h1v1h-1zM911 219h1v1h-1zM911 244h1v1h-1zM911 268h1v1h-1zM911 293h1v1h-1zM911 318h1v1h-1zM911 342h1v1h-1zM911 367h1v1h-1zM911 391h1v1h-1zM911 416h1v1h-1zM911 440h1v1h-1zM911 465h1v1h-1zM911 489h1v1h-1zM911 514h1v1h-1zM911 538h1v1h-1zM911 563h1v1h-1zM911 587h1v1h-1zM911 612h1v1h-1zM911 636h1v1h-1zM911 661h1v1h-1zM911 685h1v1h-1zM911 710h1v1h-1zM911 734h1v1h-1zM911 759h1v1h-1zM911 783h1v1h-1zM911 808h1v1h-1zM911 832h1v1h-1zM911 857h1v1h-1zM911 881h1v1h-1zM911 906h1v1h-1zM936 121h1v1h-1zM936 146h1v1h-1zM936 170h1v1h-1zM936 195h1v1h-1zM936 219h1v1h-1zM936 244h1v1h-1zM936 268h1v1h-1zM936 293h1v1h-1zM936 318h1v1h-1zM936 342h1v1h-1zM936 367h1v1h-1zM936 391h1v1h-1zM936 416h1v1h-1zM936 440h1v1h-1zM936 465h1v1h-1zM936 489h1v1h-1zM936 514h1v1h-1zM936 538h1v1h-1zM936 563h1v1h-1zM936 587h1v1h-1zM936 612h1v1h-1zM936 636h1v1h-1zM936 661h1v1h-1zM936 685h1v1h-1zM936 710h1v1h-1zM936 734h1v1h-1zM936 759h1v1h-1zM936 783h1v1h-1zM936 808h1v1h-1zM936 832h1v1h-1zM936 857h1v1h-1zM936 881h1v1h-1zM936 906h1v1h-1zM960 121h1v1h-1zM960 146h1v1h-1zM960 170h1v1h-1zM960 195h1v1h-1zM960 219h1v1h-1zM960 244h1v1h-1zM960 268h1v1h-1zM960 293h1v1h-1zM960 318h1v1h-1zM960 342h1v1h-1zM960 367h1v1h-1zM960 391h1v1h-1zM960 416h1v1h-1zM960 440h1v1h-1zM960 465h1v1h-1zM960 489h1v1h-1zM960 514h1v1h-1zM960 538h1v1h-1zM960 563h1v1h-1zM960 587h1v1h-1zM960 612h1v1h-1zM960 636h1v1h-1zM960 661h1v1h-1zM960 685h1v1h-1zM960 710h1v1h-1zM960 734h1v1h-1zM960 759h1v1h-1zM960 783h1v1h-1zM960 808h1v1h-1zM960 832h1v1h-1zM960 857h1v1h-1zM960 881h1v1h-1zM960 906h1v1h-1zM985 121h1v1h-1zM985 146h1v1h-1zM985 170h1v1h-1zM985 195h1v1h-1zM985 219h1v1h-1zM985 244h1v1h-1zM985 268h1v1h-1zM985 293h1v1h-1zM985 318h1v1h-1zM985 342h1v1h-1zM985 367h1v1h-1zM985 391h1v1h-1zM985 416h1v1h-1zM985 440h1v1h-1zM985 465h1v1h-1zM985 489h1v1h-1zM985 514h1v1h-1zM985 538h1v1h-1zM985 563h1v1h-1zM985 587h1v1h-1zM985 612h1v1h-1zM985 636h1v1h-1zM985 661h1v1h-1zM985 685h1v1h-1zM985 710h1v1h-1zM985 734h1v1h-1zM985 759h1v1h-1zM985 783h1v1h-1zM985 808h1v1h-1zM985 832h1v1h-1zM985 857h1v1h-1zM985 881h1v1h-1zM985 906h1v1h-1zM1009 121h1v1h-1zM1009 146h1v1h-1zM1009 170h1v1h-1zM1009 195h1v1h-1zM1009 219h1v1h-1zM1009 244h1v1h-1zM1009 268h1v1h-1zM1009 293h1v1h-1zM1009 318h1v1h-1zM1009 342h1v1h-1zM1009 367h1v1h-1zM1009 391h1v1h-1zM1009 416h1v1h-1zM1009 440h1v1h-1zM1009 465h1v1h-1zM1009 489h1v1h-1zM1009 514h1v1h-1zM1009 538h1v1h-1zM1009 563h1v1h-1zM1009 587h1v1h-1zM1009 612h1v1h-1zM1009 636h1v1h-1zM1009 661h1v1h-1zM1009 685h1v1h-1zM1009 710h1v1h-1zM1009 734h1v1h-1zM1009 759h1v1h-1zM1009 783h1v1h-1zM1009 808h1v1h-1zM1009 832h1v1h-1zM1009 857h1v1h-1zM1009 881h1v1h-1zM1009 906h1v1h-1zM1034 121h1v1h-1zM1034 146h1v1h-1zM1034 170h1v1h-1zM1034 195h1v1h-1zM1034 219h1v1h-1zM1034 244h1v1h-1zM1034 268h1v1h-1zM1034 293h1v1h-1zM1034 318h1v1h-1zM1034 342h1v1h-1zM1034 367h1v1h-1zM1034 391h1v1h-1zM1034 416h1v1h-1zM1034 440h1v1h-1zM1034 465h1v1h-1zM1034 489h1v1h-1zM1034 514h1v1h-1zM1034 538h1v1h-1zM1034 563h1v1h-1zM1034 587h1v1h-1zM1034 612h1v1h-1zM1034 636h1v1h-1zM1034 661h1v1h-1zM1034 685h1v1h-1zM1034 710h1v1h-1zM1034 734h1v1h-1zM1034 759h1v1h-1zM1034 783h1v1h-1zM1034 808h1v1h-1zM1034 832h1v1h-1zM1034 857h1v1h-1zM1034 881h1v1h-1zM1034 906h1v1h-1zM1058 121h1v1h-1zM1058 146h1v1h-1zM1058 170h1v1h-1zM1058 195h1v1h-1zM1058 219h1v1h-1zM1058 244h1v1h-1zM1058 268h1v1h-1zM1058 293h1v1h-1zM1058 318h1v1h-1zM1058 342h1v1h-1zM1058 367h1v1h-1zM1058 391h1v1h-1zM1058 416h1v1h-1zM1058 440h1v1h-1zM1058 465h1v1h-1zM1058 489h1v1h-1zM1058 514h1v1h-1zM1058 538h1v1h-1zM1058 563h1v1h-1zM1058 587h1v1h-1zM1058 612h1v1h-1zM1058 636h1v1h-1zM1058 661h1v1h-1zM1058 685h1v1h-1zM1058 710h1v1h-1zM1058 734h1v1h-1zM1058 759h1v1h-1zM1058 783h1v1h-1zM1058 808h1v1h-1zM1058 832h1v1h-1zM1058 857h1v1h-1zM1058 881h1v1h-1zM1058 906h1v1h-1zM1083 121h1v1h-1zM1083 146h1v1h-1zM1083 170h1v1h-1zM1083 195h1v1h-1zM1083 219h1v1h-1zM1083 244h1v1h-1zM1083 268h1v1h-1zM1083 293h1v1h-1zM1083 318h1v1h-1zM1083 342h1v1h-1zM1083 367h1v1h-1zM1083 391h1v1h-1zM1083 416h1v1h-1zM1083 440h1v1h-1zM1083 465h1v1h-1zM1083 489h1v1h-1zM1083 514h1v1h-1zM1083 538h1v1h-1zM1083 563h1v1h-1zM1083 587h1v1h-1zM1083 612h1v1h-1zM1083 636h1v1h-1zM1083 661h1v1h-1zM1083 685h1v1h-1zM1083 710h1v1h-1zM1083 734h1v1h-1zM1083 759h1v1h-1zM1083 783h1v1h-1zM1083 808h1v1h-1zM1083 832h1v1h-1zM1083 857h1v1h-1zM1083 881h1v1h-1zM1083 906h1v1h-1zM1107 121h1v1h-1zM1107 146h1v1h-1zM1107 170h1v1h-1zM1107 195h1v1h-1zM1107 219h1v1h-1zM1107 244h1v1h-1zM1107 268h1v1h-1zM1107 293h1v1h-1zM1107 318h1v1h-1zM1107 342h1v1h-1zM1107 367h1v1h-1zM1107 391h1v1h-1zM1107 416h1v1h-1zM1107 440h1v1h-1zM1107 465h1v1h-1zM1107 489h1v1h-1zM1107 514h1v1h-1zM1107 538h1v1h-1zM1107 563h1v1h-1zM1107 587h1v1h-1zM1107 612h1v1h-1zM1107 636h1v1h-1zM1107 661h1v1h-1zM1107 685h1v1h-1zM1107 710h1v1h-1zM1107 734h1v1h-1zM1107 759h1v1h-1zM1107 783h1v1h-1zM1107 808h1v1h-1zM1107 832h1v1h-1zM1107 857h1v1h-1zM1107 881h1v1h-1zM1107 906h1v1h-1zM1132 121h1v1h-1zM1132 146h1v1h-1zM1132 170h1v1h-1zM1132 195h1v1h-1zM1132 219h1v1h-1zM1132 244h1v1h-1zM1132 268h1v1h-1zM1132 293h1v1h-1zM1132 318h1v1h-1zM1132 342h1v1h-1zM1132 367h1v1h-1zM1132 391h1v1h-1zM1132 416h1v1h-1zM1132 440h1v1h-1zM1132 465h1v1h-1zM1132 489h1v1h-1zM1132 514h1v1h-1zM1132 538h1v1h-1zM1132 563h1v1h-1zM1132 587h1v1h-1zM1132 612h1v1h-1zM1132 636h1v1h-1zM1132 661h1v1h-1zM1132 685h1v1h-1zM1132 710h1v1h-1zM1132 734h1v1h-1zM1132 759h1v1h-1zM1132 783h1v1h-1zM1132 808h1v1h-1zM1132 832h1v1h-1zM1132 857h1v1h-1zM1132 881h1v1h-1zM1132 906h1v1h-1zM1157 121h1v1h-1zM1157 146h1v1h-1zM1157 170h1v1h-1zM1157 195h1v1h-1zM1157 219h1v1h-1zM1157 244h1v1h-1zM1157 268h1v1h-1zM1157 293h1v1h-1zM1157 318h1v1h-1zM1157 342h1v1h-1zM1157 367h1v1h-1zM1157 391h1v1h-1zM1157 416h1v1h-1zM1157 440h1v1h-1zM1157 465h1v1h-1zM1157 489h1v1h-1zM1157 514h1v1h-1zM1157 538h1v1h-1zM1157 563h1v1h-1zM1157 587h1v1h-1zM1157 612h1v1h-1zM1157 636h1v1h-1zM1157 661h1v1h-1zM1157 685h1v1h-1zM1157 710h1v1h-1zM1157 734h1v1h-1zM1157 759h1v1h-1zM1157 783h1v1h-1zM1157 808h1v1h-1zM1157 832h1v1h-1zM1157 857h1v1h-1zM1157 881h1v1h-1zM1157 906h1v1h-1zM1181 121h1v1h-1zM1181 146h1v1h-1zM1181 170h1v1h-1zM1181 195h1v1h-1zM1181 219h1v1h-1zM1181 244h1v1h-1zM1181 268h1v1h-1zM1181 293h1v1h-1zM1181 318h1v1h-1zM1181 342h1v1h-1zM1181 367h1v1h-1zM1181 391h1v1h-1zM1181 416h1v1h-1zM1181 440h1v1h-1zM1181 465h1v1h-1zM1181 489h1v1h-1zM1181 514h1v1h-1zM1181 538h1v1h-1zM1181 563h1v1h-1zM1181 587h1v1h-1zM1181 612h1v1h-1zM1181 636h1v1h-1zM1181 661h1v1h-1zM1181 685h1v1h-1zM1181 710h1v1h-1zM1181 734h1v1h-1zM1181 759h1v1h-1zM1181 783h1v1h-1zM1181 808h1v1h-1zM1181 832h1v1h-1zM1181 857h1v1h-1zM1181 881h1v1h-1zM1181 906h1v1h-1zM1206 121h1v1h-1zM1206 146h1v1h-1zM1206 170h1v1h-1zM1206 195h1v1h-1zM1206 219h1v1h-1zM1206 244h1v1h-1zM1206 268h1v1h-1zM1206 293h1v1h-1zM1206 318h1v1h-1zM1206 342h1v1h-1zM1206 367h1v1h-1zM1206 391h1v1h-1zM1206 416h1v1h-1zM1206 440h1v1h-1zM1206 465h1v1h-1zM1206 489h1v1h-1zM1206 514h1v1h-1zM1206 538h1v1h-1zM1206 563h1v1h-1zM1206 587h1v1h-1zM1206 612h1v1h-1zM1206 636h1v1h-1zM1206 661h1v1h-1zM1206 685h1v1h-1zM1206 710h1v1h-1zM1206 734h1v1h-1zM1206 759h1v1h-1zM1206 783h1v1h-1zM1206 808h1v1h-1zM1206 832h1v1h-1zM1206 857h1v1h-1zM1206 881h1v1h-1zM1206 906h1v1h-1zM1230 121h1v1h-1zM1230 146h1v1h-1zM1230 170h1v1h-1zM1230 195h1v1h-1zM1230 219h1v1h-1zM1230 244h1v1h-1zM1230 268h1v1h-1zM1230 293h1v1h-1zM1230 318h1v1h-1zM1230 342h1v1h-1zM1230 367h1v1h-1zM1230 391h1v1h-1zM1230 416h1v1h-1zM1230 440h1v1h-1zM1230 465h1v1h-1zM1230 489h1v1h-1zM1230 514h1v1h-1zM1230 538h1v1h-1zM1230 563h1v1h-1zM1230 587h1v1h-1zM1230 612h1v1h-1zM1230 636h1v1h-1zM1230 661h1v1h-1zM1230 685h1v1h-1zM1230 710h1v1h-1zM1230 734h1v1h-1zM1230 759h1v1h-1zM1230 783h1v1h-1zM1230 808h1v1h-1zM1230 832h1v1h-1zM1230 857h1v1h-1zM1230 881h1v1h-1zM1230 906h1v1h-1zM1255 121h1v1h-1zM1255 146h1v1h-1zM1255 170h1v1h-1zM1255 195h1v1h-1zM1255 219h1v1h-1zM1255 244h1v1h-1zM1255 268h1v1h-1zM1255 293h1v1h-1zM1255 318h1v1h-1zM1255 342h1v1h-1zM1255 367h1v1h-1zM1255 391h1v1h-1zM1255 416h1v1h-1zM1255 440h1v1h-1zM1255 465h1v1h-1zM1255 489h1v1h-1zM1255 514h1v1h-1zM1255 538h1v1h-1zM1255 563h1v1h-1zM1255 587h1v1h-1zM1255 612h1v1h-1zM1255 636h1v1h-1zM1255 661h1v1h-1zM1255 685h1v1h-1zM1255 710h1v1h-1zM1255 734h1v1h-1zM1255 759h1v1h-1zM1255 783h1v1h-1zM1255 808h1v1h-1zM1255 832h1v1h-1zM1255 857h1v1h-1zM1255 881h1v1h-1zM1255 906h1v1h-1zM1279 121h1v1h-1zM1279 146h1v1h-1zM1279 170h1v1h-1zM1279 195h1v1h-1zM1279 219h1v1h-1zM1279 244h1v1h-1zM1279 268h1v1h-1zM1279 293h1v1h-1zM1279 318h1v1h-1zM1279 342h1v1h-1zM1279 367h1v1h-1zM1279 391h1v1h-1zM1279 416h1v1h-1zM1279 440h1v1h-1zM1279 465h1v1h-1zM1279 489h1v1h-1zM1279 514h1v1h-1zM1279 538h1v1h-1zM1279 563h1v1h-1zM1279 587h1v1h-1zM1279 612h1v1h-1zM1279 636h1v1h-1zM1279 661h1v1h-1zM1279 685h1v1h-1zM1279 710h1v1h-1zM1279 734h1v1h-1zM1279 759h1v1h-1zM1279 783h1v1h-1zM1279 808h1v1h-1zM1279 832h1v1h-1zM1279 857h1v1h-1zM1279 881h1v1h-1zM1279 906h1v1h-1zM1304 121h1v1h-1zM1304 146h1v1h-1zM1304 170h1v1h-1zM1304 195h1v1h-1zM1304 219h1v1h-1zM1304 244h1v1h-1zM1304 268h1v1h-1zM1304 293h1v1h-1zM1304 318h1v1h-1zM1304 342h1v1h-1zM1304 367h1v1h-1zM1304 391h1v1h-1zM1304 416h1v1h-1zM1304 440h1v1h-1zM1304 465h1v1h-1zM1304 489h1v1h-1zM1304 514h1v1h-1zM1304 538h1v1h-1zM1304 563h1v1h-1zM1304 587h1v1h-1zM1304 612h1v1h-1zM1304 636h1v1h-1zM1304 661h1v1h-1zM1304 685h1v1h-1zM1304 710h1v1h-1zM1304 734h1v1h-1zM1304 759h1v1h-1zM1304 783h1v1h-1zM1304 808h1v1h-1zM1304 832h1v1h-1zM1304 857h1v1h-1zM1304 881h1v1h-1zM1304 906h1v1h-1zM1328 121h1v1h-1zM1328 146h1v1h-1zM1328 170h1v1h-1zM1328 195h1v1h-1zM1328 219h1v1h-1zM1328 244h1v1h-1zM1328 268h1v1h-1zM1328 293h1v1h-1zM1328 318h1v1h-1zM1328 342h1v1h-1zM1328 367h1v1h-1zM1328 391h1v1h-1zM1328 416h1v1h-1zM1328 440h1v1h-1zM1328 465h1v1h-1zM1328 489h1v1h-1zM1328 514h1v1h-1zM1328 538h1v1h-1zM1328 563h1v1h-1zM1328 587h1v1h-1zM1328 612h1v1h-1zM1328 636h1v1h-1zM1328 661h1v1h-1zM1328 685h1v1h-1zM1328 710h1v1h-1zM1328 734h1v1h-1zM1328 759h1v1h-1zM1328 783h1v1h-1zM1328 808h1v1h-1zM1328 832h1v1h-1zM1328 857h1v1h-1zM1328 881h1v1h-1zM1328 906h1v1h-1z" fill="#a2a2a2"/>
<path d="M592.5 268.5L690.5 268.5M592.5 268.5L592.5 538.5M813.5 268.5L1157.5 268.5M1157.5 268.5L1157.5 587.5M371.5 538.5L666.5 538.5M371.5 538.5L371.5 587.5M371.5 710.5L371.5 759.5M469.5 636.5L494.5 636.5M469.5 636.5L469.5 710.5M617.5 636.5L666.5 636.5M739.5 293.5L837.5 293.5M739.5 293.5L739.5 318.5M739.5 440.5L739.5 514.5M739.5 661.5L739.5 685.5M739.5 808.5L739.5 832.5M862.5 587.5L985.5 587.5M1107.5 587.5L1230.5 587.5M1206.5 587.5L1206.5 636.5M1206.5 759.5L1206.5 808.5" stroke="#400000" stroke-width="1" fill="none" stroke-linecap="square"/>
<path d="M693.5 268.5 L714.7 268.5 L722.1 256.5 L734.0 280.5 L746.1 256.5 L758.1 280.5 L771.1 256.5 L783.1 280.5 L789.2 268.5 L810.5 268.5M497.5 636.5 L518.4 636.5 L525.8 624.5 L537.7 648.5 L549.8 624.5 L561.8 648.5 L574.8 624.5 L586.8 648.5 L592.9 636.5 L614.5 636.5M988.5 587.5 L1009.3 587.5 L1016.7 575.5 L1028.6 599.5 L1040.7 575.5 L1052.7 599.5 L1065.7 575.5 L1077.7 599.5 L1083.8 587.5 L1104.5 587.5M665.6 538.5H690.2M665.6 636.5H690.2M837.5 587.5H862.0M739.5 513.6V538.1M739.5 636.1V660.6M371.5 587.1V612M371.5 687V709.7M1206.5 636.1V685.5M1206.5 710.5V758.7M1230.2 587.5H1256" stroke="#008000" stroke-width="3" fill="none" stroke-linejoin="round" stroke-linecap="round"/>
<path d="M837.5 293.0V318.5M813.0 318.5H862.0M825.0 330.5H850.0" stroke="#008000" stroke-width="3" fill="none" stroke-linecap="round"/><path d="M836 342h3v1h-3zM837 341h1v3h-1z" fill="#008000"/>
<path d="M739.5 832.2V857.5M715.0 857.5H764.0M727.0 870.5H752.0" stroke="#008000" stroke-width="3" fill="none" stroke-linecap="round"/><path d="M738 881h3v1h-3zM739 880h1v3h-1z" fill="#008000"/>
<path d="M371.5 758.7V783.5M347.0 783.5H396.0M359.0 796.5H384.0" stroke="#008000" stroke-width="3" fill="none" stroke-linecap="round"/><path d="M370 808h3v1h-3zM371 807h1v3h-1z" fill="#008000"/>
<path d="M469.5 709.7V734.5M445.0 734.5H494.0M457.0 747.5H482.0" stroke="#008000" stroke-width="3" fill="none" stroke-linecap="round"/><path d="M468 759h3v1h-3zM469 758h1v3h-1z" fill="#008000"/>
<path d="M1206.5 807.7V832.5M1182.0 832.5H1231.0M1194.0 845.5H1219.0" stroke="#008000" stroke-width="3" fill="none" stroke-linecap="round"/><path d="M1205 857h3v1h-3zM1206 856h1v3h-1z" fill="#008000"/>
<path d="M1182.0 685.5H1231.0M1182.0 710.5H1231.0" stroke="#008000" stroke-width="3" stroke-linecap="round"/>
<circle cx="372.0" cy="649.6" r="37.4" stroke="#008000" stroke-width="3.2" fill="none"/>
<path d="M371.8 634.5L383.6 657.9H360.0Z" stroke="#008000" stroke-width="3" fill="none" stroke-linejoin="round"/>
<path d="M420.3 677V627" stroke="#008000" stroke-width="3" fill="none" stroke-linecap="round"/>
<path d="M420.3 621.8L426.3 626.6H414.3Z" stroke="#008000" stroke-width="2.6" fill="none" stroke-linejoin="round"/>
<path d="M392 679h3v1h-3zM393 678h1v3h-1z" fill="#000"/>
<path d="M1267.5 572.5A12 15 0 0 0 1267.5 602" stroke="#008000" stroke-width="3" fill="none" stroke-linecap="round"/>
<path d="M739.5 317.5V354M739.5 391V440.1" stroke="#000" stroke-width="1.1"/><rect x="715" y="354" width="50" height="1.2" fill="#000"/><rect x="715" y="376" width="50" height="1.2" fill="#000"/><rect x="724" y="363" width="34" height="7" fill="#000"/><rect x="724" y="385" width="34" height="6" fill="#000"/>
<path d="M739.5 685.1V722M739.5 759V807.7" stroke="#000" stroke-width="1.1"/><rect x="715" y="722" width="50" height="1.2" fill="#000"/><rect x="715" y="743" width="50" height="1.2" fill="#000"/><rect x="724" y="731" width="34" height="6" fill="#000"/><rect x="724" y="753" width="34" height="6" fill="#000"/>
<path d="M758 324.5H771M764.5 318V331M758 691.5H771M764.5 685V698" stroke="#000" stroke-width="1.2"/>
<path d="M690.2 513.6L837.5 587.1L690.2 660.6Z" stroke="#000080" stroke-width="6" fill="none" stroke-linejoin="round"/>
<path d="M698.5 538.2H713.5" stroke="#008080" stroke-width="2"/>
<path d="M698 632.5H714M706.3 624V641M732 613.5H748M740.3 605V622" stroke="#008080" stroke-width="1.5"/>
<polygon points="590.0,532.0 595.0,532.0 599.0,536.0 599.0,541.0 595.0,545.0 590.0,545.0 586.0,541.0 586.0,536.0" fill="#400000"/>
<polygon points="1155.0,581.0 1160.0,581.0 1164.0,585.0 1164.0,590.0 1160.0,594.0 1155.0,594.0 1151.0,590.0 1151.0,585.0" fill="#400000"/>
<polygon points="1204.0,581.0 1209.0,581.0 1213.0,585.0 1213.0,590.0 1209.0,594.0 1204.0,594.0 1200.0,590.0 1200.0,585.0" fill="#400000"/>
<path d="M691 269h1v1h-1zM691 267h1v1h-1zM689 269h1v1h-1zM689 267h1v1h-1zM692 270h1v1h-1zM692 266h1v1h-1zM688 270h1v1h-1zM688 266h1v1h-1zM693 271h1v1h-1zM693 265h1v1h-1zM687 271h1v1h-1zM687 265h1v1h-1zM814 269h1v1h-1zM814 267h1v1h-1zM812 269h1v1h-1zM812 267h1v1h-1zM815 270h1v1h-1zM815 266h1v1h-1zM811 270h1v1h-1zM811 266h1v1h-1zM816 271h1v1h-1zM816 265h1v1h-1zM810 271h1v1h-1zM810 265h1v1h-1zM740 319h1v1h-1zM740 317h1v1h-1zM738 319h1v1h-1zM738 317h1v1h-1zM741 320h1v1h-1zM741 316h1v1h-1zM737 320h1v1h-1zM737 316h1v1h-1zM742 321h1v1h-1zM742 315h1v1h-1zM736 321h1v1h-1zM736 315h1v1h-1zM740 441h1v1h-1zM740 439h1v1h-1zM738 441h1v1h-1zM738 439h1v1h-1zM741 442h1v1h-1zM741 438h1v1h-1zM737 442h1v1h-1zM737 438h1v1h-1zM742 443h1v1h-1zM742 437h1v1h-1zM736 443h1v1h-1zM736 437h1v1h-1zM838 294h1v1h-1zM838 292h1v1h-1zM836 294h1v1h-1zM836 292h1v1h-1zM839 295h1v1h-1zM839 291h1v1h-1zM835 295h1v1h-1zM835 291h1v1h-1zM840 296h1v1h-1zM840 290h1v1h-1zM834 296h1v1h-1zM834 290h1v1h-1zM667 539h1v1h-1zM667 537h1v1h-1zM665 539h1v1h-1zM665 537h1v1h-1zM668 540h1v1h-1zM668 536h1v1h-1zM664 540h1v1h-1zM664 536h1v1h-1zM669 541h1v1h-1zM669 535h1v1h-1zM663 541h1v1h-1zM663 535h1v1h-1zM667 637h1v1h-1zM667 635h1v1h-1zM665 637h1v1h-1zM665 635h1v1h-1zM668 638h1v1h-1zM668 634h1v1h-1zM664 638h1v1h-1zM664 634h1v1h-1zM669 639h1v1h-1zM669 633h1v1h-1zM663 639h1v1h-1zM663 633h1v1h-1zM740 515h1v1h-1zM740 513h1v1h-1zM738 515h1v1h-1zM738 513h1v1h-1zM741 516h1v1h-1zM741 512h1v1h-1zM737 516h1v1h-1zM737 512h1v1h-1zM742 517h1v1h-1zM742 511h1v1h-1zM736 517h1v1h-1zM736 511h1v1h-1zM740 662h1v1h-1zM740 660h1v1h-1zM738 662h1v1h-1zM738 660h1v1h-1zM741 663h1v1h-1zM741 659h1v1h-1zM737 663h1v1h-1zM737 659h1v1h-1zM742 664h1v1h-1zM742 658h1v1h-1zM736 664h1v1h-1zM736 658h1v1h-1zM863 588h1v1h-1zM863 586h1v1h-1zM861 588h1v1h-1zM861 586h1v1h-1zM864 589h1v1h-1zM864 585h1v1h-1zM860 589h1v1h-1zM860 585h1v1h-1zM865 590h1v1h-1zM865 584h1v1h-1zM859 590h1v1h-1zM859 584h1v1h-1zM740 686h1v1h-1zM740 684h1v1h-1zM738 686h1v1h-1zM738 684h1v1h-1zM741 687h1v1h-1zM741 683h1v1h-1zM737 687h1v1h-1zM737 683h1v1h-1zM742 688h1v1h-1zM742 682h1v1h-1zM736 688h1v1h-1zM736 682h1v1h-1zM740 809h1v1h-1zM740 807h1v1h-1zM738 809h1v1h-1zM738 807h1v1h-1zM741 810h1v1h-1zM741 806h1v1h-1zM737 810h1v1h-1zM737 806h1v1h-1zM742 811h1v1h-1zM742 805h1v1h-1zM736 811h1v1h-1zM736 805h1v1h-1zM740 833h1v1h-1zM740 831h1v1h-1zM738 833h1v1h-1zM738 831h1v1h-1zM741 834h1v1h-1zM741 830h1v1h-1zM737 834h1v1h-1zM737 830h1v1h-1zM742 835h1v1h-1zM742 829h1v1h-1zM736 835h1v1h-1zM736 829h1v1h-1zM372 588h1v1h-1zM372 586h1v1h-1zM370 588h1v1h-1zM370 586h1v1h-1zM373 589h1v1h-1zM373 585h1v1h-1zM369 589h1v1h-1zM369 585h1v1h-1zM374 590h1v1h-1zM374 584h1v1h-1zM368 590h1v1h-1zM368 584h1v1h-1zM372 711h1v1h-1zM372 709h1v1h-1zM370 711h1v1h-1zM370 709h1v1h-1zM373 712h1v1h-1zM373 708h1v1h-1zM369 712h1v1h-1zM369 708h1v1h-1zM374 713h1v1h-1zM374 707h1v1h-1zM368 713h1v1h-1zM368 707h1v1h-1zM372 760h1v1h-1zM372 758h1v1h-1zM370 760h1v1h-1zM370 758h1v1h-1zM373 761h1v1h-1zM373 757h1v1h-1zM369 761h1v1h-1zM369 757h1v1h-1zM374 762h1v1h-1zM374 756h1v1h-1zM368 762h1v1h-1zM368 756h1v1h-1zM495 637h1v1h-1zM495 635h1v1h-1zM493 637h1v1h-1zM493 635h1v1h-1zM496 638h1v1h-1zM496 634h1v1h-1zM492 638h1v1h-1zM492 634h1v1h-1zM497 639h1v1h-1zM497 633h1v1h-1zM491 639h1v1h-1zM491 633h1v1h-1zM618 637h1v1h-1zM618 635h1v1h-1zM616 637h1v1h-1zM616 635h1v1h-1zM619 638h1v1h-1zM619 634h1v1h-1zM615 638h1v1h-1zM615 634h1v1h-1zM620 639h1v1h-1zM620 633h1v1h-1zM614 639h1v1h-1zM614 633h1v1h-1zM470 711h1v1h-1zM470 709h1v1h-1zM468 711h1v1h-1zM468 709h1v1h-1zM471 712h1v1h-1zM471 708h1v1h-1zM467 712h1v1h-1zM467 708h1v1h-1zM472 713h1v1h-1zM472 707h1v1h-1zM466 713h1v1h-1zM466 707h1v1h-1zM986 588h1v1h-1zM986 586h1v1h-1zM984 588h1v1h-1zM984 586h1v1h-1zM987 589h1v1h-1zM987 585h1v1h-1zM983 589h1v1h-1zM983 585h1v1h-1zM988 590h1v1h-1zM988 584h1v1h-1zM982 590h1v1h-1zM982 584h1v1h-1zM1108 588h1v1h-1zM1108 586h1v1h-1zM1106 588h1v1h-1zM1106 586h1v1h-1zM1109 589h1v1h-1zM1109 585h1v1h-1zM1105 589h1v1h-1zM1105 585h1v1h-1zM1110 590h1v1h-1zM1110 584h1v1h-1zM1104 590h1v1h-1zM1104 584h1v1h-1zM1231 588h1v1h-1zM1231 586h1v1h-1zM1229 588h1v1h-1zM1229 586h1v1h-1zM1232 589h1v1h-1zM1232 585h1v1h-1zM1228 589h1v1h-1zM1228 585h1v1h-1zM1233 590h1v1h-1zM1233 584h1v1h-1zM1227 590h1v1h-1zM1227 584h1v1h-1zM1207 637h1v1h-1zM1207 635h1v1h-1zM1205 637h1v1h-1zM1205 635h1v1h-1zM1208 638h1v1h-1zM1208 634h1v1h-1zM1204 638h1v1h-1zM1204 634h1v1h-1zM1209 639h1v1h-1zM1209 633h1v1h-1zM1203 639h1v1h-1zM1203 633h1v1h-1zM1207 760h1v1h-1zM1207 758h1v1h-1zM1205 760h1v1h-1zM1205 758h1v1h-1zM1208 761h1v1h-1zM1208 757h1v1h-1zM1204 761h1v1h-1zM1204 757h1v1h-1zM1209 762h1v1h-1zM1209 756h1v1h-1zM1203 762h1v1h-1zM1203 756h1v1h-1zM1207 809h1v1h-1zM1207 807h1v1h-1zM1205 809h1v1h-1zM1205 807h1v1h-1zM1208 810h1v1h-1zM1208 806h1v1h-1zM1204 810h1v1h-1zM1204 806h1v1h-1zM1209 811h1v1h-1zM1209 805h1v1h-1zM1203 811h1v1h-1zM1203 805h1v1h-1z" fill="#ff0000"/>
<text transform="translate(702.70,237.90) scale(0.935,1)" font-family="Liberation Sans" font-size="34.8" fill="#008080">R3 1G</text>
<text transform="translate(776.40,373.00) scale(0.935,1)" font-family="Liberation Sans" font-size="34.8" fill="#008080">V2 15</text>
<text transform="translate(769.80,473.85) scale(0.935,1)" font-family="Liberation Sans" font-size="34.8" fill="#008080">U1 LMP7721</text>
<text transform="translate(776.40,740.90) scale(0.935,1)" font-family="Liberation Sans" font-size="34.8" fill="#008080">V1 15</text>
<text transform="translate(505.60,606.90) scale(0.935,1)" font-family="Liberation Sans" font-size="34.8" fill="#008080">R1 1k</text>
<text transform="translate(416.10,715.80) scale(0.935,1)" font-family="Liberation Sans" font-size="34.8" fill="#008080">IG1</text>
<text transform="translate(996.40,557.80) scale(0.935,1)" font-family="Liberation Sans" font-size="34.8" fill="#008080">R2 1k</text>
<text transform="translate(1217.20,556.80) scale(0.935,1)" font-family="Liberation Sans" font-size="34.8" fill="#800080">VF1</text>
<text transform="translate(1166.10,755.60) rotate(-90) scale(0.935,1)" font-family="Liberation Sans" font-size="34.8" fill="#008080">C2 1u</text>
<text transform="translate(660.20,532.90) scale(0.935,1)" font-family="Liberation Sans" font-size="24.2" fill="#000080">8</text>
<text transform="translate(659.50,631.60) scale(0.935,1)" font-family="Liberation Sans" font-size="24.2" fill="#000080">1</text>
<text transform="translate(855.60,581.60) scale(0.935,1)" font-family="Liberation Sans" font-size="24.2" fill="#000080">4</text>
<text transform="translate(732.90,519.90) rotate(-90) scale(0.935,1)" font-family="Liberation Sans" font-size="24.2" fill="#000080">3</text>
<text transform="translate(732.80,666.40) rotate(-90) scale(0.935,1)" font-family="Liberation Sans" font-size="24.2" fill="#000080">6</text>
</svg>
<div class="abs" style="left:2px;top:3px;width:564px;height:494px;border-radius:7px 7px 6px 6px;box-shadow:2px 3px 8px rgba(0,0,0,0.45);"></div>
<div class="abs" style="left:2px;top:3px;width:564px;height:494px;border:1px solid #4f5d5f;border-radius:7px 7px 6px 6px;background:linear-gradient(180deg,#d6f2f4 0px,#dcf6f7 12px,#d8f3f4 24px,#e6fdfd 32px,#eafefe 60px,#eafefe 400px,#e8fefe 493px);overflow:hidden"><div class="abs" style="left:27px;top:2px;width:34px;height:5px;background:rgba(120,140,150,0.28);filter:blur(2px)"></div><div class="abs" style="left:77px;top:2px;width:38px;height:5px;background:rgba(120,140,150,0.28);filter:blur(2px)"></div><div class="abs" style="left:130px;top:2px;width:40px;height:5px;background:rgba(120,140,150,0.28);filter:blur(2px)"></div><div class="abs" style="left:186px;top:2px;width:28px;height:5px;background:rgba(120,140,150,0.28);filter:blur(2px)"></div><div class="abs" style="left:231px;top:2px;width:38px;height:5px;background:rgba(120,140,150,0.28);filter:blur(2px)"></div><div class="abs" style="left:287px;top:2px;width:55px;height:5px;background:rgba(120,140,150,0.28);filter:blur(2px)"></div><div class="abs" style="left:356px;top:2px;width:40px;height:5px;background:rgba(120,140,150,0.28);filter:blur(2px)"></div><div class="abs" style="left:0px;top:14px;width:20px;height:16px;background:rgba(120,160,60,0.35);filter:blur(3px)"></div><div class="abs" style="left:60px;top:18px;width:120px;height:8px;background:rgba(120,150,160,0.22);filter:blur(3px)"></div><div class="abs" style="left:200px;top:18px;width:140px;height:8px;background:rgba(120,150,160,0.18);filter:blur(3px)"></div><div class="abs" style="left:380px;top:20px;width:20px;height:8px;background:rgba(200,120,110,0.3);filter:blur(3px)"></div><div class="abs" style="left:410px;top:18px;width:50px;height:8px;background:rgba(140,150,160,0.2);filter:blur(3px)"></div><div class="abs" style="left:540px;top:18px;width:20px;height:10px;background:rgba(150,190,120,0.35);filter:blur(3px)"></div><div class="abs" style="left:0;top:0;width:562px;height:1px;background:rgba(255,255,255,0.6)"></div></div>
<svg class="abs" style="left:10px;top:10px" width="16" height="16" viewBox="0 0 16 16">
<rect width="16" height="16" fill="#c0c0c0"/>
<path d="M0 9.5h5M9 9.5h7" stroke="#ff00ff" stroke-width="1"/>
<path d="M4 10v5M8 10v5M12 10v5" stroke="#0000ff" stroke-width="1.2"/>
<path d="M1 3l3 3 3-2 3 2 4-3" stroke="#00e000" stroke-width="1" stroke-dasharray="1 1" fill="none"/>
<path d="M2 8l4-3 3 1 5-5" stroke="#a000a0" stroke-width="1" stroke-dasharray="1 1" fill="none"/>
</svg>
<div class="abs" style="left:31px;top:11px;font-size:12.5px;color:#000;white-space:nowrap;letter-spacing:0.25px">Noname - AC Bode3</div>
<div class="abs" style="left:456px;top:3px;width:103px;height:20px;border:1px solid #7b8d8f;border-top:none;border-radius:0 0 4px 4px;background:linear-gradient(#cfeef2,#e2fbfb)"></div>
<div class="abs" style="left:484px;top:3px;width:1px;height:19px;background:#97aaab"></div>
<div class="abs" style="left:511px;top:3px;width:1px;height:19px;background:#97aaab"></div>
<svg class="abs" style="left:456px;top:3px" width="104" height="20" viewBox="0 0 104 20">
<rect x="9.5" y="10" width="11" height="4" rx="1" fill="#fafafa" stroke="#404858" stroke-width="1"/>
<rect x="36.5" y="5.5" width="10" height="9" rx="1" fill="#fafafa" stroke="#404858" stroke-width="1"/>
<rect x="39.5" y="8.5" width="4" height="3" fill="#cfe7ea" stroke="#404858" stroke-width="1"/>
<path d="M76 7L83.5 14M83.5 7L76 14" stroke="#5a6470" stroke-width="4.2" stroke-linecap="round"/>
<path d="M76 7L83.5 14M83.5 7L76 14" stroke="#f4f4f4" stroke-width="2.4" stroke-linecap="round"/>
</svg>
<div class="abs" style="left:8px;top:31px;width:552px;height:460px;border:1px solid rgba(255,255,255,0.7);border-radius:1px"></div>
<div class="abs" style="left:9px;top:32px;width:550px;height:458px;background:#f0f0f0;border:1px solid #55625f;overflow:hidden">
<div class="abs" style="left:0;top:0;width:548px;height:19px;background:linear-gradient(#fbfcfe 0px,#e9ecf6 6px,#dfe3f2 9px,#dbe0f0 18px);border-bottom:1px solid #c6cbdb"></div>
<div class="abs" style="left:0;top:19px;width:548px;height:1px;background:#fff"></div>
<div class="abs" style="left:7px;top:3px;font-size:12px;line-height:14px;color:#6d6d6d;white-space:nowrap">文件(F)</div>
<div class="abs" style="left:59px;top:3px;font-size:12px;line-height:14px;color:#6d6d6d;white-space:nowrap">编辑(E)</div>
<div class="abs" style="left:112.5px;top:3px;font-size:12px;line-height:14px;color:#6d6d6d;white-space:nowrap">视图(V)</div>
<div class="abs" style="left:166px;top:3px;font-size:12px;line-height:14px;color:#6d6d6d;white-space:nowrap">处理(P)</div>
<div class="abs" style="left:219px;top:3px;font-size:12px;line-height:14px;color:#6d6d6d;white-space:nowrap">帮助(H)</div>
<div class="abs" style="left:0;top:57px;width:548px;height:1px;background:#a0a0a0"></div>
<div class="abs" style="left:0;top:58px;width:548px;height:401px;background:#fff"></div>
</div>
<div class="abs" style="left:14px;top:60px;width:24px;height:25px;border-top:1px solid #fff;border-left:1px solid #fff;border-right:1px solid #7a7a7a;border-bottom:2px solid #7a7a7a;background:#f0f0f0"></div>
<svg class="abs" style="left:14px;top:60px" width="24" height="25" viewBox="0 0 24 25"><path d="M5.5 8.5h5l1 1.5h6v2h-10l-2.5 7.5z" fill="#ffff60" stroke="#000" stroke-width="1.3"/><path d="M5.5 19.5l2.5-7.5h13l-3 7.5z" fill="#f0f060" stroke="#000" stroke-width="1.3" stroke-dasharray="1.5 0.6"/></svg>
<div class="abs" style="left:38px;top:60px;width:24px;height:25px;border-top:1px solid #fff;border-left:1px solid #fff;border-right:1px solid #7a7a7a;border-bottom:2px solid #7a7a7a;background:#f0f0f0"></div>
<svg class="abs" style="left:38px;top:60px" width="24" height="25" viewBox="0 0 24 25"><rect x="6" y="6.5" width="13" height="13" rx="1.2" fill="#0000ff" stroke="#000" stroke-width="1.2"/><rect x="8.5" y="7" width="8" height="6" fill="#fff"/><rect x="9" y="15" width="7" height="4" fill="#e8e8e8"/><rect x="10" y="15.5" width="2" height="3" fill="#0000ff"/></svg>
<div class="abs" style="left:73px;top:60px;width:24px;height:25px;border-top:1px solid #fff;border-left:1px solid #fff;border-right:1px solid #7a7a7a;border-bottom:2px solid #7a7a7a;background:#f0f0f0"></div>
<svg class="abs" style="left:73px;top:60px" width="24" height="25" viewBox="0 0 24 25"><path d="M4.5 5.5h6l2 2v9h-8z" fill="#fff" stroke="#000" stroke-width="1"/><path d="M9.5 9.5h6l2 2v9h-8z" fill="#ffff80" stroke="#000" stroke-width="1"/><path d="M11 13h5M11 15h5M11 17h5M11 19h5" stroke="#000" stroke-width="0.8"/></svg>
<div class="abs" style="left:97px;top:60px;width:24px;height:25px;border-top:1px solid #fff;border-left:1px solid #fff;border-right:1px solid #7a7a7a;border-bottom:2px solid #7a7a7a;background:#f0f0f0"></div>
<svg class="abs" style="left:97px;top:60px" width="24" height="25" viewBox="0 0 24 25"><rect x="4.5" y="6.5" width="10" height="12" fill="#ddd" stroke="#000" stroke-width="1"/><rect x="7" y="4.5" width="5" height="3" fill="#00a0ff" stroke="#000" stroke-width="0.8"/><path d="M8 11l5 5" stroke="#0000c0" stroke-width="2"/><path d="M11.5 12.5h6l2 2v7h-8z" fill="#ffff80" stroke="#000" stroke-width="1"/><path d="M13 16h5M13 18h5M13 20h5" stroke="#000" stroke-width="0.8"/></svg>
<div class="abs" style="left:126px;top:60px;width:24px;height:25px;border-top:2px solid #808080;border-left:2px solid #808080;border-right:1px solid #fff;border-bottom:1px solid #fff;background:repeating-conic-gradient(#f8f8f8 0 25%,#ececec 0 50%) 0 0/2px 2px"></div>
<svg class="abs" style="left:126px;top:60px" width="24" height="25" viewBox="0 0 24 25"><path d="M10.5 8.5v9l2.2-2.2 1.9 3.6 1.3-.7-1.9-3.5h3.2z" fill="#000"/></svg>
<div class="abs" style="left:150px;top:60px;width:24px;height:25px;border-top:1px solid #fff;border-left:1px solid #fff;border-right:1px solid #7a7a7a;border-bottom:2px solid #7a7a7a;background:#f0f0f0"></div>
<svg class="abs" style="left:150px;top:60px" width="24" height="25" viewBox="0 0 24 25"><circle cx="10.5" cy="10" r="5" fill="#fff" stroke="#000" stroke-width="1.6"/><path d="M8 10h5M10.5 7.5v5" stroke="#f00" stroke-width="1.6"/><path d="M14 14l5 5" stroke="#000" stroke-width="2.2"/></svg>
<div class="abs" style="left:174px;top:60px;width:24px;height:25px;border-top:1px solid #fff;border-left:1px solid #fff;border-right:1px solid #7a7a7a;border-bottom:2px solid #7a7a7a;background:#f0f0f0"></div>
<svg class="abs" style="left:174px;top:60px" width="24" height="25" viewBox="0 0 24 25"><circle cx="10.5" cy="9" r="5" fill="#fff" stroke="#000" stroke-width="1.6"/><path d="M8 9h5" stroke="#f00" stroke-width="1.6"/><path d="M14 13l5 5" stroke="#000" stroke-width="2.2"/><text x="3" y="23" font-size="7" font-family="Liberation Sans" font-weight="bold">100%</text></svg>
<div class="abs" style="left:198px;top:60px;width:24px;height:25px;border-top:1px solid #fff;border-left:1px solid #fff;border-right:1px solid #7a7a7a;border-bottom:2px solid #7a7a7a;background:#f0f0f0"></div>
<svg class="abs" style="left:198px;top:60px" width="24" height="25" viewBox="0 0 24 25"><rect x="5" y="7" width="1" height="1" fill="#a8a8a8"/><rect x="5" y="11" width="1" height="1" fill="#a8a8a8"/><rect x="5" y="15" width="1" height="1" fill="#a8a8a8"/><rect x="9" y="7" width="1" height="1" fill="#a8a8a8"/><rect x="9" y="11" width="1" height="1" fill="#a8a8a8"/><rect x="9" y="15" width="1" height="1" fill="#a8a8a8"/><rect x="13" y="7" width="1" height="1" fill="#a8a8a8"/><rect x="13" y="11" width="1" height="1" fill="#a8a8a8"/><rect x="13" y="15" width="1" height="1" fill="#a8a8a8"/><rect x="17" y="7" width="1" height="1" fill="#a8a8a8"/><rect x="17" y="11" width="1" height="1" fill="#a8a8a8"/><rect x="17" y="15" width="1" height="1" fill="#a8a8a8"/></svg>
<div class="abs" style="left:222px;top:60px;width:24px;height:25px;border-top:1px solid #fff;border-left:1px solid #fff;border-right:1px solid #7a7a7a;border-bottom:2px solid #7a7a7a;background:#f0f0f0"></div>
<svg class="abs" style="left:222px;top:60px" width="24" height="25" viewBox="0 0 24 25"><text x="12" y="18" font-size="16" font-family="Liberation Serif" font-weight="bold" text-anchor="middle">T</text></svg>
<div class="abs" style="left:246px;top:60px;width:24px;height:25px;border-top:1px solid #fff;border-left:1px solid #fff;border-right:1px solid #7a7a7a;border-bottom:2px solid #7a7a7a;background:#f0f0f0"></div>
<svg class="abs" style="left:246px;top:60px" width="24" height="25" viewBox="0 0 24 25"><path d="M2 12c4-6 8-2 12-6l4-3" stroke="#000" fill="none" stroke-width="1.1"/><path d="M12 10l6-6M15 4h3v3" stroke="#000" fill="none" stroke-width="1.2"/><path d="M2 14h8" stroke="#000"/><text x="6" y="22" font-size="8" font-family="Liberation Serif" font-weight="bold">T</text></svg>
<div class="abs" style="left:270px;top:60px;width:24px;height:25px;border-top:1px solid #fff;border-left:1px solid #fff;border-right:1px solid #7a7a7a;border-bottom:2px solid #7a7a7a;background:#f0f0f0"></div>
<svg class="abs" style="left:270px;top:60px" width="24" height="25" viewBox="0 0 24 25"><path d="M2 12c4-6 8-2 12-6l4-3" stroke="#000" fill="none" stroke-width="1.1"/><path d="M12 10l6-6M15 4h3v3" stroke="#000" fill="none" stroke-width="1.2"/><path d="M2 14h8" stroke="#000"/><text x="5" y="22" font-size="9" font-family="Liberation Sans" font-weight="bold">?</text></svg>
<div class="abs" style="left:294px;top:60px;width:24px;height:25px;border-top:1px solid #fff;border-left:1px solid #fff;border-right:1px solid #7a7a7a;border-bottom:2px solid #7a7a7a;background:#f0f0f0"></div>
<svg class="abs" style="left:294px;top:60px" width="24" height="25" viewBox="0 0 24 25"><path d="M2 12c4-6 8-8 12-6l6 6" stroke="#000" fill="none" stroke-width="1.1"/><path d="M6 13v8" stroke="#000"/><path d="M8 16h6" stroke="#c00"/><path d="M8 19h6" stroke="#080"/><path d="M15 16l3 3M18 16l-3 3" stroke="#000" stroke-width="0.8"/></svg>
<div class="abs" style="left:318px;top:60px;width:24px;height:25px;border-top:1px solid #fff;border-left:1px solid #fff;border-right:1px solid #7a7a7a;border-bottom:2px solid #7a7a7a;background:#f0f0f0"></div>
<svg class="abs" style="left:318px;top:60px" width="24" height="25" viewBox="0 0 24 25"><path d="M4 9l16 7" stroke="#000" stroke-width="1.2"/></svg>
<div class="abs" style="left:342px;top:60px;width:24px;height:25px;border-top:1px solid #fff;border-left:1px solid #fff;border-right:1px solid #7a7a7a;border-bottom:2px solid #7a7a7a;background:#f0f0f0"></div>
<svg class="abs" style="left:342px;top:60px" width="24" height="25" viewBox="0 0 24 25"><circle cx="12" cy="12" r="7.5" fill="none" stroke="#000" stroke-width="1.1"/></svg>
<div class="abs" style="left:371px;top:60px;width:24px;height:25px;border-top:1px solid #fff;border-left:1px solid #fff;border-right:1px solid #7a7a7a;border-bottom:2px solid #7a7a7a;background:#f0f0f0"></div>
<svg class="abs" style="left:371px;top:60px" width="24" height="25" viewBox="0 0 24 25"><text x="12" y="10" font-size="9" font-family="Liberation Sans" fill="#f00" text-anchor="middle">a</text><path d="M2 16h18M11 10v12" stroke="#f00" stroke-width="1.2"/><path d="M5 11l13 10" stroke="#000" stroke-width="1"/></svg>
<div class="abs" style="left:395px;top:60px;width:24px;height:25px;border-top:1px solid #fff;border-left:1px solid #fff;border-right:1px solid #7a7a7a;border-bottom:2px solid #7a7a7a;background:#f0f0f0"></div>
<svg class="abs" style="left:395px;top:60px" width="24" height="25" viewBox="0 0 24 25"><text x="12" y="10" font-size="9" font-family="Liberation Sans" fill="#00f" text-anchor="middle">b</text><path d="M2 16h18M11 10v12" stroke="#00f" stroke-width="1.2"/><path d="M5 11l13 10" stroke="#000" stroke-width="1"/></svg>
<div class="abs" style="left:424px;top:60px;width:24px;height:25px;border-top:1px solid #fff;border-left:1px solid #fff;border-right:1px solid #7a7a7a;border-bottom:2px solid #7a7a7a;background:#f0f0f0"></div>
<svg class="abs" style="left:424px;top:60px" width="24" height="25" viewBox="0 0 24 25"><path d="M3 6h6M6 3v6" stroke="#e00" stroke-width="2.2"/><path d="M2 14c4 2 6-5 12-4 3 .5 4 2 5 3" stroke="#080" fill="none" stroke-width="1.1"/><path d="M2 17c4 2 6-5 12-4 3 .5 4 2 5 3" stroke="#800" fill="none" stroke-width="1.1"/><path d="M2 20c4 2 6-5 12-4 3 .5 4 2 5 3" stroke="#00f" fill="none" stroke-width="1.1"/></svg>
<div class="abs" style="left:448px;top:60px;width:25px;height:25px;border-top:1px solid #fff;border-left:1px solid #fff;border-right:1px solid #7a7a7a;border-bottom:2px solid #7a7a7a;background:#f0f0f0"></div>
<svg class="abs" style="left:448px;top:60px" width="25" height="25" viewBox="0 0 25 25"><path d="M3 6h6M6 3v6" stroke="#e00" stroke-width="2.2"/><path d="M5 21l9-9" stroke="#000" stroke-width="2.5"/><path d="M6 20l8-8" stroke="#fff" stroke-width="0.8"/><path d="M13 11l4-4" stroke="#000" stroke-width="4" stroke-linecap="round"/></svg>
<div class="abs" style="left:473px;top:60px;width:26px;height:25px;border-top:1px solid #fff;border-left:1px solid #fff;border-right:1px solid #7a7a7a;border-bottom:2px solid #7a7a7a;background:#f0f0f0"></div>
<svg class="abs" style="left:473px;top:60px" width="26" height="25" viewBox="0 0 26 25"><path d="M6 5v12M6 5l11 5" stroke="#000" stroke-width="1.1" fill="none"/></svg>
<div class="abs" style="left:504px;top:64px;width:13px;height:20px;border-top:1px solid #fff;border-left:1px solid #fff;border-right:1px solid #7a7a7a;border-bottom:2px solid #7a7a7a;background:#f0f0f0"></div>
<svg class="abs" style="left:504px;top:64px" width="13" height="20" viewBox="0 0 13 20"><path d="M8 6v8l-4-4z" fill="#000"/></svg>
<div class="abs" style="left:517px;top:60px;width:21px;height:13px;border-top:1px solid #fff;border-left:1px solid #fff;border-right:1px solid #7a7a7a;border-bottom:2px solid #7a7a7a;background:#f0f0f0"></div>
<svg class="abs" style="left:517px;top:60px" width="21" height="13" viewBox="0 0 21 13"><path d="M6 9h9l-4.5-5z" fill="#000"/></svg>
<div class="abs" style="left:517px;top:72px;width:21px;height:14px;border-top:1px solid #fff;border-left:1px solid #fff;border-right:1px solid #7a7a7a;border-bottom:2px solid #7a7a7a;background:#f0f0f0"></div>
<svg class="abs" style="left:517px;top:72px" width="21" height="14" viewBox="0 0 21 14"><path d="M6 4h9l-4.5 5z" fill="#000"/></svg>
<div class="abs" style="left:538px;top:64px;width:13px;height:20px;border-top:1px solid #fff;border-left:1px solid #fff;border-right:1px solid #7a7a7a;border-bottom:2px solid #7a7a7a;background:#f0f0f0"></div>
<svg class="abs" style="left:538px;top:64px" width="13" height="20" viewBox="0 0 13 20"><path d="M5 6v8l4-4z" fill="#000"/></svg>
<svg class="abs" style="left:0;top:0" width="566" height="500" viewBox="0 0 566 500">
<path d="M98.5 105V274M114.5 105V274M125.5 105V274M134.5 105V274M142.5 105V274M148.5 105V274M153.5 105V274M158.5 105V274M162.5 105V274M190.5 105V274M206.5 105V274M217.5 105V274M226.5 105V274M234.5 105V274M240.5 105V274M245.5 105V274M250.5 105V274M254.5 105V274M282.5 105V274M298.5 105V274M309.5 105V274M318.5 105V274M326.5 105V274M332.5 105V274M337.5 105V274M342.5 105V274M346.5 105V274M374.5 105V274M390.5 105V274M401.5 105V274M410.5 105V274M418.5 105V274M424.5 105V274M429.5 105V274M434.5 105V274M438.5 105V274M466.5 105V274M482.5 105V274M493.5 105V274M502.5 105V274M510.5 105V274M516.5 105V274M521.5 105V274M526.5 105V274" stroke="#c0c0c0" stroke-width="1" stroke-dasharray="3 3" fill="none"/>
<path d="M71 132.5H530M71 160.5H530M71 189.5H530M71 217.5H530M71 245.5H530" stroke="#c0c0c0" stroke-width="1" stroke-dasharray="3 3" fill="none"/>
<path d="M71 104.5H530.5V274" stroke="#b4b4b4" stroke-width="1" fill="none"/>
<path d="M70.5 104V275M70 274.5H531" stroke="#000" stroke-width="1.2" fill="none"/>
<path d="M65 104.5H70M67.5 111.5H70M67.5 118.5H70M67.5 125.5H70M65 132.5H70M67.5 139.5H70M67.5 146.5H70M67.5 153.5H70M65 160.5H70M67.5 167.5H70M67.5 174.5H70M67.5 181.5H70M65 189.5H70M67.5 196.5H70M67.5 203.5H70M67.5 210.5H70M65 217.5H70M67.5 224.5H70M67.5 231.5H70M67.5 238.5H70M65 245.5H70M67.5 252.5H70M67.5 259.5H70M67.5 266.5H70M65 274.5H70" stroke="#000" stroke-width="1.4" fill="none"/>
<text x="64" y="108" font-size="10.5" font-style="italic" font-family="Liberation Sans" text-anchor="end" fill="#000">190.00</text>
<text x="64" y="136" font-size="10.5" font-style="italic" font-family="Liberation Sans" text-anchor="end" fill="#000">170.00</text>
<text x="64" y="164" font-size="10.5" font-style="italic" font-family="Liberation Sans" text-anchor="end" fill="#000">150.00</text>
<text x="64" y="193" font-size="10.5" font-style="italic" font-family="Liberation Sans" text-anchor="end" fill="#000">130.00</text>
<text x="64" y="221" font-size="10.5" font-style="italic" font-family="Liberation Sans" text-anchor="end" fill="#000">110.00</text>
<text x="64" y="249" font-size="10.5" font-style="italic" font-family="Liberation Sans" text-anchor="end" fill="#000">90.00</text>
<text x="64" y="278" font-size="10.5" font-style="italic" font-family="Liberation Sans" text-anchor="end" fill="#000">70.00</text>
<polyline points="71,118 364,118 368,118.5 373.7,119.8 379.7,122.2 383.5,124.8 387.6,127.8 391.5,131.5 395.6,135.3 530.1,258.7" stroke="#800000" stroke-width="2.1" fill="none" stroke-linejoin="round"/>
<text transform="translate(23.6,189.3) rotate(-90)" font-size="10.3" font-family="Liberation Sans" text-anchor="middle" fill="#000">增益(dB)</text>
</svg>
<svg class="abs" style="left:0;top:0" width="566" height="500" viewBox="0 0 566 500">
<path d="M98.5 295V423M114.5 295V423M125.5 295V423M134.5 295V423M142.5 295V423M148.5 295V423M153.5 295V423M158.5 295V423M162.5 295V423M190.5 295V423M206.5 295V423M217.5 295V423M226.5 295V423M234.5 295V423M240.5 295V423M245.5 295V423M250.5 295V423M254.5 295V423M282.5 295V423M298.5 295V423M309.5 295V423M318.5 295V423M326.5 295V423M332.5 295V423M337.5 295V423M342.5 295V423M346.5 295V423M374.5 295V423M390.5 295V423M401.5 295V423M410.5 295V423M418.5 295V423M424.5 295V423M429.5 295V423M434.5 295V423M438.5 295V423M466.5 295V423M482.5 295V423M493.5 295V423M502.5 295V423M510.5 295V423M516.5 295V423M521.5 295V423M526.5 295V423" stroke="#c0c0c0" stroke-width="1" stroke-dasharray="3 3" fill="none"/>
<path d="M71 315.5H530M71 337.5H530M71 358.5H530M71 380.5H530M71 401.5H530" stroke="#c0c0c0" stroke-width="1" stroke-dasharray="3 3" fill="none"/>
<path d="M71 294.5H530.5V423" stroke="#b4b4b4" stroke-width="1" fill="none"/>
<path d="M70.5 294V424M70 423.5H531" stroke="#000" stroke-width="1.2" fill="none"/>
<path d="M65 294.5H70M67.5 299.5H70M67.5 304.5H70M67.5 310.5H70M65 315.5H70M67.5 320.5H70M67.5 326.5H70M67.5 331.5H70M65 337.5H70M67.5 342.5H70M67.5 347.5H70M67.5 353.5H70M65 358.5H70M67.5 363.5H70M67.5 369.5H70M67.5 374.5H70M65 380.5H70M67.5 385.5H70M67.5 390.5H70M67.5 396.5H70M65 401.5H70M67.5 406.5H70M67.5 412.5H70M67.5 417.5H70M65 423.5H70" stroke="#000" stroke-width="1.4" fill="none"/>
<text x="64" y="298" font-size="10.5" font-style="italic" font-family="Liberation Sans" text-anchor="end" fill="#000">280.00</text>
<text x="64" y="319" font-size="10.5" font-style="italic" font-family="Liberation Sans" text-anchor="end" fill="#000">260.00</text>
<text x="64" y="341" font-size="10.5" font-style="italic" font-family="Liberation Sans" text-anchor="end" fill="#000">240.00</text>
<text x="64" y="362" font-size="10.5" font-style="italic" font-family="Liberation Sans" text-anchor="end" fill="#000">220.00</text>
<text x="64" y="384" font-size="10.5" font-style="italic" font-family="Liberation Sans" text-anchor="end" fill="#000">200.00</text>
<text x="64" y="405" font-size="10.5" font-style="italic" font-family="Liberation Sans" text-anchor="end" fill="#000">180.00</text>
<text x="64" y="427" font-size="10.5" font-style="italic" font-family="Liberation Sans" text-anchor="end" fill="#000">160.00</text>
<polyline points="71,402 250.5,402 251,401 323.6,401 330.9,400.0 339.4,398.3 346.7,395.9 352.7,392.0 360,384.3 366.1,377.0 370.9,368.5 374.6,360.0 377,352.7 379.4,345.5 383.1,338.2 386.7,329.7 390.3,323.6 395.2,316.4 400,311.5 406.1,307.2 413.4,305.5 423.1,304.0 470.3,304 470.8,305 498.4,305 498.9,306 516.3,306 516.8,307 530.5,307" stroke="#800000" stroke-width="2.1" fill="none" stroke-linejoin="round"/>
<text transform="translate(23.6,358) rotate(-90)" font-size="10.3" font-family="Liberation Sans" text-anchor="middle" fill="#000">相位 [deg]</text>
</svg>
<svg class="abs" style="left:0;top:0" width="566" height="500"><path d="M70.5 423V428.5M98.5 423V425.5M114.5 423V425.5M125.5 423V425.5M134.5 423V425.5M142.5 423V425.5M148.5 423V425.5M153.5 423V425.5M158.5 423V425.5M162.5 423V428.5M190.5 423V425.5M206.5 423V425.5M217.5 423V425.5M226.5 423V425.5M234.5 423V425.5M240.5 423V425.5M245.5 423V425.5M250.5 423V425.5M254.5 423V428.5M282.5 423V425.5M298.5 423V425.5M309.5 423V425.5M318.5 423V425.5M326.5 423V425.5M332.5 423V425.5M337.5 423V425.5M342.5 423V425.5M346.5 423V428.5M374.5 423V425.5M390.5 423V425.5M401.5 423V425.5M410.5 423V425.5M418.5 423V425.5M424.5 423V425.5M429.5 423V425.5M434.5 423V425.5M438.5 423V428.5M466.5 423V425.5M482.5 423V425.5M493.5 423V425.5M502.5 423V425.5M510.5 423V425.5M516.5 423V425.5M521.5 423V425.5M526.5 423V425.5M530.5 423V428.5" stroke="#000" stroke-width="1.3"/></svg>
<div class="abs" style="left:40.5px;top:430px;width:60px;text-align:center;font-size:11px;font-style:italic;line-height:13px;color:#000">10</div>
<div class="abs" style="left:135px;top:430px;width:60px;text-align:center;font-size:11px;font-style:italic;line-height:13px;color:#000">100</div>
<div class="abs" style="left:224.5px;top:430px;width:60px;text-align:center;font-size:11px;font-style:italic;line-height:13px;color:#000">1k</div>
<div class="abs" style="left:319px;top:430px;width:60px;text-align:center;font-size:11px;font-style:italic;line-height:13px;color:#000">10k</div>
<div class="abs" style="left:414px;top:430px;width:60px;text-align:center;font-size:11px;font-style:italic;line-height:13px;color:#000">100k</div>
<div class="abs" style="left:511px;top:430px;width:60px;text-align:center;font-size:11px;font-style:italic;line-height:13px;color:#000">1MEG</div>
<div class="abs" style="left:290px;top:446px;font-size:11px;line-height:14px;color:#000;white-space:nowrap">频率(Hz)</div>
<div class="abs" style="left:505px;top:471px;width:21px;height:17px;background:#f0f0f0"></div>
<div class="abs" style="left:11px;top:471px;width:1px;height:16px;background:#e4e4e4"></div>
<div class="abs" style="left:13px;top:471px;width:77px;height:16px;background:#f0f0f0;border-top:1px solid #fff;border-left:1px solid #fff;border-right:1px solid #808080;border-bottom:2px solid #6a6a6a"><div style="font-family:'Liberation Mono',monospace;font-size:12px;color:#000;white-space:nowrap;transform:scaleX(0.835);transform-origin:0 0;position:absolute;top:0;line-height:14px;left:5.0px">DC result17</div></div>
<div class="abs" style="left:90px;top:471px;width:78px;height:16px;background:#f0f0f0;border-top:1px solid #fff;border-left:1px solid #fff;border-right:1px solid #808080;border-bottom:2px solid #6a6a6a"><div style="font-family:'Liberation Mono',monospace;font-size:12px;color:#000;white-space:nowrap;transform:scaleX(0.835);transform-origin:0 0;position:absolute;top:0;line-height:14px;left:5.5px">DC result18</div></div>
<div class="abs" style="left:168px;top:471px;width:78px;height:16px;background:#f0f0f0;border-top:1px solid #fff;border-left:1px solid #fff;border-right:1px solid #808080;border-bottom:2px solid #6a6a6a"><div style="font-family:'Liberation Mono',monospace;font-size:12px;color:#000;white-space:nowrap;transform:scaleX(0.835);transform-origin:0 0;position:absolute;top:0;line-height:14px;left:5.5px">DC result19</div></div>
<div class="abs" style="left:246px;top:471px;width:78px;height:16px;background:#f0f0f0;border-top:1px solid #fff;border-left:1px solid #fff;border-right:1px solid #808080;border-bottom:2px solid #6a6a6a"><div style="font-family:'Liberation Mono',monospace;font-size:12px;color:#000;white-space:nowrap;transform:scaleX(0.835);transform-origin:0 0;position:absolute;top:0;line-height:14px;left:5.5px">DC result20</div></div>
<div class="abs" style="left:325px;top:471px;width:59px;height:16px;background:#f0f0f0;border-top:1px solid #fff;border-left:1px solid #fff;border-right:1px solid #808080;border-bottom:2px solid #6a6a6a"><div style="font-family:'Liberation Mono',monospace;font-size:12px;color:#000;white-space:nowrap;transform:scaleX(0.835);transform-origin:0 0;position:absolute;top:0;line-height:14px;left:5.0px">AC Bode1</div></div>
<div class="abs" style="left:384px;top:471px;width:59px;height:16px;background:#f0f0f0;border-top:1px solid #fff;border-left:1px solid #fff;border-right:1px solid #808080;border-bottom:2px solid #6a6a6a"><div style="font-family:'Liberation Mono',monospace;font-size:12px;color:#000;white-space:nowrap;transform:scaleX(0.835);transform-origin:0 0;position:absolute;top:0;line-height:14px;left:5.0px">AC Bode2</div></div>
<div class="abs" style="left:443px;top:470px;width:63px;height:19px;background:#f0f0f0;border-top:1px solid #fff;border-left:1px solid #fff;border-right:1px solid #808080;border-bottom:2px solid #6a6a6a"><div style="font-family:'Liberation Mono',monospace;font-size:12px;color:#000;white-space:nowrap;transform:scaleX(0.835);transform-origin:0 0;position:absolute;top:0;line-height:14px;left:7px;top:3px">AC Bode3</div></div>
<div class="abs" style="left:526px;top:472px;width:15px;height:16px;background:#f0f0f0;border-top:1px solid #fff;border-left:1px solid #fff;border-right:1px solid #808080;border-bottom:2px solid #6a6a6a"><svg width="14" height="13" style="position:absolute;left:0;top:0"><path d="M8.5 3v8l-4-4z" fill="#000"/></svg></div>
<div class="abs" style="left:541px;top:472px;width:17px;height:16px;background:#f0f0f0;border-top:1px solid #fff;border-left:1px solid #fff;border-right:1px solid #808080;border-bottom:2px solid #6a6a6a"><svg width="14" height="13" style="position:absolute;left:0;top:0"><path d="M5.5 3v8l4-4z" fill="#000"/></svg></div>
</body></html>
